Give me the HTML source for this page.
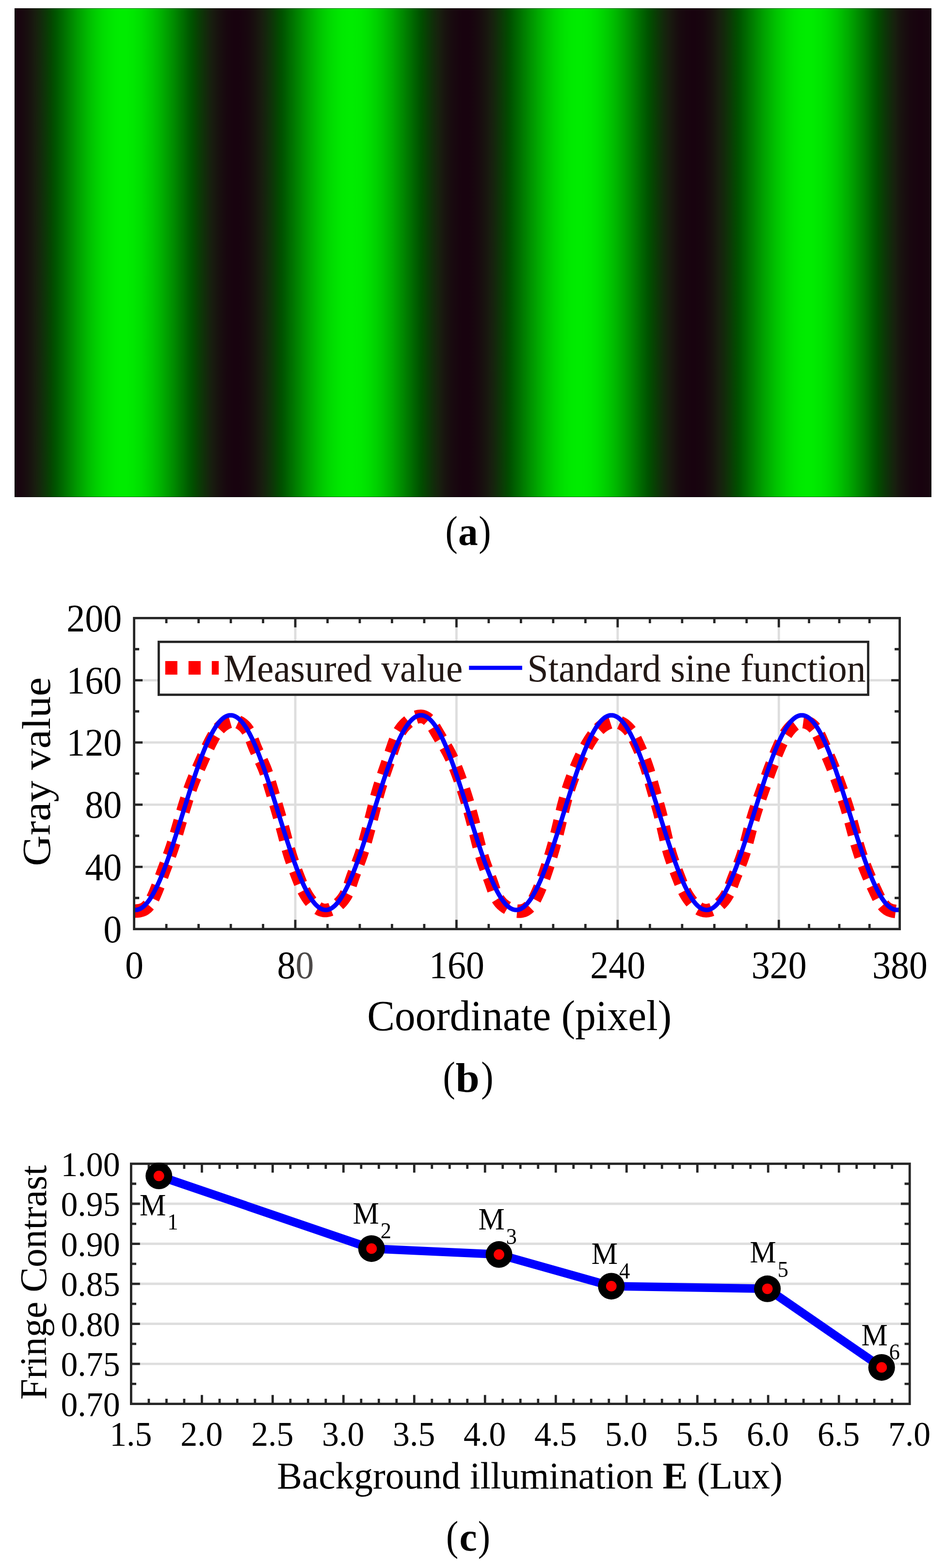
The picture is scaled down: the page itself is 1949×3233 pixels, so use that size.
<!DOCTYPE html>
<html lang="en">
<head>
<meta charset="utf-8">
<title>Fringe contrast figure</title>
<style>
html,body{margin:0;padding:0;background:#fff;}
body{width:1949px;height:3233px;overflow:hidden;font-family:"Liberation Serif",serif;}
svg{display:block;}
text{white-space:pre;}
</style>
</head>
<body>
<svg width="1949" height="3233" viewBox="0 0 1949 3233" font-family="'Liberation Serif', serif">
<defs><linearGradient id="fr" gradientUnits="userSpaceOnUse" x1="30" y1="0" x2="1921" y2="0"><stop offset="0%" stop-color="#18040f"/><stop offset="0.26%" stop-color="#18050f"/><stop offset="0.53%" stop-color="#18060f"/><stop offset="0.79%" stop-color="#18080f"/><stop offset="1.05%" stop-color="#180b0f"/><stop offset="1.32%" stop-color="#180e0f"/><stop offset="1.58%" stop-color="#18120f"/><stop offset="1.84%" stop-color="#18160f"/><stop offset="2.11%" stop-color="#181b0f"/><stop offset="2.37%" stop-color="#17200e"/><stop offset="2.63%" stop-color="#15250d"/><stop offset="2.89%" stop-color="#122b0b"/><stop offset="3.16%" stop-color="#0f3109"/><stop offset="3.42%" stop-color="#0c3707"/><stop offset="3.68%" stop-color="#093e04"/><stop offset="3.95%" stop-color="#054502"/><stop offset="4.21%" stop-color="#024d00"/><stop offset="4.47%" stop-color="#005400"/><stop offset="4.74%" stop-color="#005c00"/><stop offset="5%" stop-color="#006400"/><stop offset="5.26%" stop-color="#006b00"/><stop offset="5.53%" stop-color="#007300"/><stop offset="5.79%" stop-color="#007b00"/><stop offset="6.05%" stop-color="#008300"/><stop offset="6.32%" stop-color="#008b00"/><stop offset="6.58%" stop-color="#009300"/><stop offset="6.84%" stop-color="#009b00"/><stop offset="7.11%" stop-color="#00a200"/><stop offset="7.37%" stop-color="#00a900"/><stop offset="7.63%" stop-color="#00b000"/><stop offset="7.89%" stop-color="#00b700"/><stop offset="8.16%" stop-color="#00be00"/><stop offset="8.42%" stop-color="#00c400"/><stop offset="8.68%" stop-color="#00ca00"/><stop offset="8.95%" stop-color="#00cf00"/><stop offset="9.21%" stop-color="#00d400"/><stop offset="9.47%" stop-color="#00d900"/><stop offset="9.74%" stop-color="#00dd00"/><stop offset="10%" stop-color="#00e000"/><stop offset="10.26%" stop-color="#00e300"/><stop offset="10.53%" stop-color="#00e600"/><stop offset="10.79%" stop-color="#00e800"/><stop offset="11.05%" stop-color="#00ea00"/><stop offset="11.32%" stop-color="#00eb00"/><stop offset="11.58%" stop-color="#00ec00"/><stop offset="11.84%" stop-color="#00ec00"/><stop offset="12.11%" stop-color="#00ec00"/><stop offset="12.37%" stop-color="#00eb00"/><stop offset="12.63%" stop-color="#00e900"/><stop offset="12.89%" stop-color="#00e800"/><stop offset="13.16%" stop-color="#00e500"/><stop offset="13.42%" stop-color="#00e200"/><stop offset="13.68%" stop-color="#00df00"/><stop offset="13.95%" stop-color="#00db00"/><stop offset="14.21%" stop-color="#00d700"/><stop offset="14.47%" stop-color="#00d200"/><stop offset="14.74%" stop-color="#00cd00"/><stop offset="15%" stop-color="#00c800"/><stop offset="15.26%" stop-color="#00c200"/><stop offset="15.53%" stop-color="#00bc00"/><stop offset="15.79%" stop-color="#00b600"/><stop offset="16.05%" stop-color="#00af00"/><stop offset="16.32%" stop-color="#00a800"/><stop offset="16.58%" stop-color="#00a100"/><stop offset="16.84%" stop-color="#009a00"/><stop offset="17.11%" stop-color="#009200"/><stop offset="17.37%" stop-color="#008b00"/><stop offset="17.63%" stop-color="#008300"/><stop offset="17.89%" stop-color="#007b00"/><stop offset="18.16%" stop-color="#007300"/><stop offset="18.42%" stop-color="#006c00"/><stop offset="18.68%" stop-color="#006400"/><stop offset="18.95%" stop-color="#005c00"/><stop offset="19.21%" stop-color="#005500"/><stop offset="19.47%" stop-color="#014e00"/><stop offset="19.74%" stop-color="#054701"/><stop offset="20%" stop-color="#084004"/><stop offset="20.26%" stop-color="#0b3906"/><stop offset="20.53%" stop-color="#0e3308"/><stop offset="20.79%" stop-color="#112d0a"/><stop offset="21.05%" stop-color="#14270c"/><stop offset="21.32%" stop-color="#16210e"/><stop offset="21.58%" stop-color="#181c0f"/><stop offset="21.84%" stop-color="#18180f"/><stop offset="22.11%" stop-color="#18140f"/><stop offset="22.37%" stop-color="#18100f"/><stop offset="22.63%" stop-color="#180d0f"/><stop offset="22.89%" stop-color="#180a0f"/><stop offset="23.16%" stop-color="#18070f"/><stop offset="23.42%" stop-color="#18060f"/><stop offset="23.68%" stop-color="#18040f"/><stop offset="23.95%" stop-color="#18030f"/><stop offset="24.21%" stop-color="#18030f"/><stop offset="24.47%" stop-color="#18030f"/><stop offset="24.74%" stop-color="#18040f"/><stop offset="25%" stop-color="#18050f"/><stop offset="25.26%" stop-color="#18070f"/><stop offset="25.53%" stop-color="#18090f"/><stop offset="25.79%" stop-color="#180c0f"/><stop offset="26.05%" stop-color="#180f0f"/><stop offset="26.32%" stop-color="#18130f"/><stop offset="26.58%" stop-color="#18170f"/><stop offset="26.84%" stop-color="#181b0f"/><stop offset="27.11%" stop-color="#17200e"/><stop offset="27.37%" stop-color="#14250d"/><stop offset="27.63%" stop-color="#122b0b"/><stop offset="27.89%" stop-color="#0f3109"/><stop offset="28.16%" stop-color="#0c3707"/><stop offset="28.42%" stop-color="#093e04"/><stop offset="28.68%" stop-color="#054502"/><stop offset="28.95%" stop-color="#024c00"/><stop offset="29.21%" stop-color="#005300"/><stop offset="29.47%" stop-color="#005a00"/><stop offset="29.74%" stop-color="#006200"/><stop offset="30%" stop-color="#006a00"/><stop offset="30.26%" stop-color="#007100"/><stop offset="30.53%" stop-color="#007900"/><stop offset="30.79%" stop-color="#008100"/><stop offset="31.05%" stop-color="#008800"/><stop offset="31.32%" stop-color="#009000"/><stop offset="31.58%" stop-color="#009800"/><stop offset="31.84%" stop-color="#009f00"/><stop offset="32.11%" stop-color="#00a600"/><stop offset="32.37%" stop-color="#00ad00"/><stop offset="32.63%" stop-color="#00b400"/><stop offset="32.89%" stop-color="#00ba00"/><stop offset="33.16%" stop-color="#00c100"/><stop offset="33.42%" stop-color="#00c600"/><stop offset="33.68%" stop-color="#00cc00"/><stop offset="33.95%" stop-color="#00d100"/><stop offset="34.21%" stop-color="#00d600"/><stop offset="34.47%" stop-color="#00da00"/><stop offset="34.74%" stop-color="#00de00"/><stop offset="35%" stop-color="#00e100"/><stop offset="35.26%" stop-color="#00e400"/><stop offset="35.53%" stop-color="#00e700"/><stop offset="35.79%" stop-color="#00e900"/><stop offset="36.05%" stop-color="#00ea00"/><stop offset="36.32%" stop-color="#00eb00"/><stop offset="36.58%" stop-color="#00ec00"/><stop offset="36.84%" stop-color="#00ec00"/><stop offset="37.11%" stop-color="#00eb00"/><stop offset="37.37%" stop-color="#00ea00"/><stop offset="37.63%" stop-color="#00e900"/><stop offset="37.89%" stop-color="#00e700"/><stop offset="38.16%" stop-color="#00e400"/><stop offset="38.42%" stop-color="#00e100"/><stop offset="38.68%" stop-color="#00de00"/><stop offset="38.95%" stop-color="#00da00"/><stop offset="39.21%" stop-color="#00d500"/><stop offset="39.47%" stop-color="#00d100"/><stop offset="39.74%" stop-color="#00cb00"/><stop offset="40%" stop-color="#00c600"/><stop offset="40.26%" stop-color="#00c000"/><stop offset="40.53%" stop-color="#00ba00"/><stop offset="40.79%" stop-color="#00b300"/><stop offset="41.05%" stop-color="#00ad00"/><stop offset="41.32%" stop-color="#00a600"/><stop offset="41.58%" stop-color="#009e00"/><stop offset="41.84%" stop-color="#009700"/><stop offset="42.11%" stop-color="#008f00"/><stop offset="42.37%" stop-color="#008800"/><stop offset="42.63%" stop-color="#008000"/><stop offset="42.89%" stop-color="#007800"/><stop offset="43.16%" stop-color="#007100"/><stop offset="43.42%" stop-color="#006900"/><stop offset="43.68%" stop-color="#006100"/><stop offset="43.95%" stop-color="#005a00"/><stop offset="44.21%" stop-color="#005200"/><stop offset="44.47%" stop-color="#024b00"/><stop offset="44.74%" stop-color="#064402"/><stop offset="45%" stop-color="#093d05"/><stop offset="45.26%" stop-color="#0c3707"/><stop offset="45.53%" stop-color="#0f3009"/><stop offset="45.79%" stop-color="#122a0b"/><stop offset="46.05%" stop-color="#15250d"/><stop offset="46.32%" stop-color="#17200e"/><stop offset="46.58%" stop-color="#181b0f"/><stop offset="46.84%" stop-color="#18160f"/><stop offset="47.11%" stop-color="#18120f"/><stop offset="47.37%" stop-color="#180f0f"/><stop offset="47.63%" stop-color="#180b0f"/><stop offset="47.89%" stop-color="#18090f"/><stop offset="48.16%" stop-color="#18070f"/><stop offset="48.42%" stop-color="#18050f"/><stop offset="48.68%" stop-color="#18040f"/><stop offset="48.95%" stop-color="#18030f"/><stop offset="49.21%" stop-color="#18030f"/><stop offset="49.47%" stop-color="#18030f"/><stop offset="49.74%" stop-color="#18040f"/><stop offset="50%" stop-color="#18060f"/><stop offset="50.26%" stop-color="#18080f"/><stop offset="50.53%" stop-color="#180a0f"/><stop offset="50.79%" stop-color="#180d0f"/><stop offset="51.05%" stop-color="#18100f"/><stop offset="51.32%" stop-color="#18140f"/><stop offset="51.58%" stop-color="#18180f"/><stop offset="51.84%" stop-color="#181d0f"/><stop offset="52.11%" stop-color="#16220e"/><stop offset="52.37%" stop-color="#14270c"/><stop offset="52.63%" stop-color="#112d0a"/><stop offset="52.89%" stop-color="#0e3308"/><stop offset="53.16%" stop-color="#0b3a06"/><stop offset="53.42%" stop-color="#084004"/><stop offset="53.68%" stop-color="#044701"/><stop offset="53.95%" stop-color="#014e00"/><stop offset="54.21%" stop-color="#005600"/><stop offset="54.47%" stop-color="#005d00"/><stop offset="54.74%" stop-color="#006500"/><stop offset="55%" stop-color="#006c00"/><stop offset="55.26%" stop-color="#007400"/><stop offset="55.53%" stop-color="#007c00"/><stop offset="55.79%" stop-color="#008300"/><stop offset="56.05%" stop-color="#008b00"/><stop offset="56.32%" stop-color="#009300"/><stop offset="56.58%" stop-color="#009a00"/><stop offset="56.84%" stop-color="#00a100"/><stop offset="57.11%" stop-color="#00a900"/><stop offset="57.37%" stop-color="#00af00"/><stop offset="57.63%" stop-color="#00b600"/><stop offset="57.89%" stop-color="#00bd00"/><stop offset="58.16%" stop-color="#00c300"/><stop offset="58.42%" stop-color="#00c800"/><stop offset="58.68%" stop-color="#00ce00"/><stop offset="58.95%" stop-color="#00d300"/><stop offset="59.21%" stop-color="#00d700"/><stop offset="59.47%" stop-color="#00dc00"/><stop offset="59.74%" stop-color="#00df00"/><stop offset="60%" stop-color="#00e300"/><stop offset="60.26%" stop-color="#00e500"/><stop offset="60.53%" stop-color="#00e800"/><stop offset="60.79%" stop-color="#00ea00"/><stop offset="61.05%" stop-color="#00eb00"/><stop offset="61.32%" stop-color="#00ec00"/><stop offset="61.58%" stop-color="#00ec00"/><stop offset="61.84%" stop-color="#00ec00"/><stop offset="62.11%" stop-color="#00eb00"/><stop offset="62.37%" stop-color="#00ea00"/><stop offset="62.63%" stop-color="#00e800"/><stop offset="62.89%" stop-color="#00e600"/><stop offset="63.16%" stop-color="#00e300"/><stop offset="63.42%" stop-color="#00e000"/><stop offset="63.68%" stop-color="#00dc00"/><stop offset="63.95%" stop-color="#00d800"/><stop offset="64.21%" stop-color="#00d400"/><stop offset="64.47%" stop-color="#00cf00"/><stop offset="64.74%" stop-color="#00ca00"/><stop offset="65%" stop-color="#00c400"/><stop offset="65.26%" stop-color="#00be00"/><stop offset="65.53%" stop-color="#00b800"/><stop offset="65.79%" stop-color="#00b100"/><stop offset="66.05%" stop-color="#00aa00"/><stop offset="66.32%" stop-color="#00a300"/><stop offset="66.58%" stop-color="#009c00"/><stop offset="66.84%" stop-color="#009400"/><stop offset="67.11%" stop-color="#008d00"/><stop offset="67.37%" stop-color="#008500"/><stop offset="67.63%" stop-color="#007d00"/><stop offset="67.89%" stop-color="#007600"/><stop offset="68.16%" stop-color="#006e00"/><stop offset="68.42%" stop-color="#006600"/><stop offset="68.68%" stop-color="#005f00"/><stop offset="68.95%" stop-color="#005700"/><stop offset="69.21%" stop-color="#005000"/><stop offset="69.47%" stop-color="#044901"/><stop offset="69.74%" stop-color="#074203"/><stop offset="70%" stop-color="#0a3b05"/><stop offset="70.26%" stop-color="#0d3507"/><stop offset="70.53%" stop-color="#102e0a"/><stop offset="70.79%" stop-color="#13280c"/><stop offset="71.05%" stop-color="#16230d"/><stop offset="71.32%" stop-color="#181e0f"/><stop offset="71.58%" stop-color="#18190f"/><stop offset="71.84%" stop-color="#18150f"/><stop offset="72.11%" stop-color="#18110f"/><stop offset="72.37%" stop-color="#180d0f"/><stop offset="72.63%" stop-color="#180a0f"/><stop offset="72.89%" stop-color="#18080f"/><stop offset="73.16%" stop-color="#18060f"/><stop offset="73.42%" stop-color="#18050f"/><stop offset="73.68%" stop-color="#18040f"/><stop offset="73.95%" stop-color="#18030f"/><stop offset="74.21%" stop-color="#18030f"/><stop offset="74.47%" stop-color="#18040f"/><stop offset="74.74%" stop-color="#18050f"/><stop offset="75%" stop-color="#18060f"/><stop offset="75.26%" stop-color="#18080f"/><stop offset="75.53%" stop-color="#180b0f"/><stop offset="75.79%" stop-color="#180e0f"/><stop offset="76.05%" stop-color="#18110f"/><stop offset="76.32%" stop-color="#18150f"/><stop offset="76.58%" stop-color="#181a0f"/><stop offset="76.84%" stop-color="#181f0f"/><stop offset="77.11%" stop-color="#15240d"/><stop offset="77.37%" stop-color="#13290b"/><stop offset="77.63%" stop-color="#102f09"/><stop offset="77.89%" stop-color="#0d3507"/><stop offset="78.16%" stop-color="#0a3c05"/><stop offset="78.42%" stop-color="#064303"/><stop offset="78.68%" stop-color="#034a00"/><stop offset="78.95%" stop-color="#005100"/><stop offset="79.21%" stop-color="#005800"/><stop offset="79.47%" stop-color="#006000"/><stop offset="79.74%" stop-color="#006700"/><stop offset="80%" stop-color="#006f00"/><stop offset="80.26%" stop-color="#007700"/><stop offset="80.53%" stop-color="#007e00"/><stop offset="80.79%" stop-color="#008600"/><stop offset="81.05%" stop-color="#008e00"/><stop offset="81.32%" stop-color="#009500"/><stop offset="81.58%" stop-color="#009d00"/><stop offset="81.84%" stop-color="#00a400"/><stop offset="82.11%" stop-color="#00ab00"/><stop offset="82.37%" stop-color="#00b200"/><stop offset="82.63%" stop-color="#00b800"/><stop offset="82.89%" stop-color="#00bf00"/><stop offset="83.16%" stop-color="#00c500"/><stop offset="83.42%" stop-color="#00ca00"/><stop offset="83.68%" stop-color="#00d000"/><stop offset="83.95%" stop-color="#00d400"/><stop offset="84.21%" stop-color="#00d900"/><stop offset="84.47%" stop-color="#00dd00"/><stop offset="84.74%" stop-color="#00e000"/><stop offset="85%" stop-color="#00e400"/><stop offset="85.26%" stop-color="#00e600"/><stop offset="85.53%" stop-color="#00e800"/><stop offset="85.79%" stop-color="#00ea00"/><stop offset="86.05%" stop-color="#00eb00"/><stop offset="86.32%" stop-color="#00ec00"/><stop offset="86.58%" stop-color="#00ec00"/><stop offset="86.84%" stop-color="#00ec00"/><stop offset="87.11%" stop-color="#00eb00"/><stop offset="87.37%" stop-color="#00e900"/><stop offset="87.63%" stop-color="#00e700"/><stop offset="87.89%" stop-color="#00e500"/><stop offset="88.16%" stop-color="#00e200"/><stop offset="88.42%" stop-color="#00df00"/><stop offset="88.68%" stop-color="#00db00"/><stop offset="88.95%" stop-color="#00d700"/><stop offset="89.21%" stop-color="#00d200"/><stop offset="89.47%" stop-color="#00cd00"/><stop offset="89.74%" stop-color="#00c800"/><stop offset="90%" stop-color="#00c200"/><stop offset="90.26%" stop-color="#00bc00"/><stop offset="90.53%" stop-color="#00b500"/><stop offset="90.79%" stop-color="#00af00"/><stop offset="91.05%" stop-color="#00a800"/><stop offset="91.32%" stop-color="#00a000"/><stop offset="91.58%" stop-color="#009900"/><stop offset="91.84%" stop-color="#009100"/><stop offset="92.11%" stop-color="#008900"/><stop offset="92.37%" stop-color="#008100"/><stop offset="92.63%" stop-color="#007a00"/><stop offset="92.89%" stop-color="#007200"/><stop offset="93.16%" stop-color="#006a00"/><stop offset="93.42%" stop-color="#006200"/><stop offset="93.68%" stop-color="#005a00"/><stop offset="93.95%" stop-color="#005300"/><stop offset="94.21%" stop-color="#024b00"/><stop offset="94.47%" stop-color="#064402"/><stop offset="94.74%" stop-color="#093d05"/><stop offset="95%" stop-color="#0c3607"/><stop offset="95.26%" stop-color="#0f3009"/><stop offset="95.53%" stop-color="#122a0b"/><stop offset="95.79%" stop-color="#15240d"/><stop offset="96.05%" stop-color="#181f0f"/><stop offset="96.32%" stop-color="#181a0f"/><stop offset="96.58%" stop-color="#18150f"/><stop offset="96.84%" stop-color="#18110f"/><stop offset="97.11%" stop-color="#180e0f"/><stop offset="97.37%" stop-color="#180b0f"/><stop offset="97.63%" stop-color="#18080f"/><stop offset="97.89%" stop-color="#18060f"/><stop offset="98.16%" stop-color="#18050f"/><stop offset="98.42%" stop-color="#18040f"/><stop offset="98.68%" stop-color="#18030f"/><stop offset="98.95%" stop-color="#18030f"/><stop offset="99.21%" stop-color="#18040f"/><stop offset="99.47%" stop-color="#18050f"/><stop offset="99.74%" stop-color="#18060f"/><stop offset="100%" stop-color="#18090f"/></linearGradient></defs>
<rect x="30" y="17" width="1891" height="1008" fill="url(#fr)"/>
<rect x="30.5" y="17.5" width="1890" height="1007" fill="none" stroke="#000" stroke-opacity="0.55" stroke-width="1"/>
<text y="1124.2" font-size="86.5" fill="#000"><tspan x="918.39" dy="-0.4" textLength="25.35" lengthAdjust="spacingAndGlyphs">(</tspan><tspan x="945.12" dy="0.4" font-size="81.5" font-weight="bold" textLength="40.75" lengthAdjust="spacingAndGlyphs">a</tspan><tspan x="987.26" dy="-0.4" textLength="25.35" lengthAdjust="spacingAndGlyphs">)</tspan></text>
<text y="2250.9" font-size="86.5" fill="#000"><tspan x="913.39" dy="-2" textLength="25.35" lengthAdjust="spacingAndGlyphs">(</tspan><tspan x="939.87" dy="2" font-size="85" font-weight="bold" textLength="49.15" lengthAdjust="spacingAndGlyphs">b</tspan><tspan x="992.36" dy="-2" textLength="25.35" lengthAdjust="spacingAndGlyphs">)</tspan></text>
<text y="3196.7" font-size="86.5" fill="#000"><tspan x="920.09" dy="-0.4" textLength="25.35" lengthAdjust="spacingAndGlyphs">(</tspan><tspan x="947.46" dy="0.4" font-size="81.5" font-weight="bold" textLength="36.19" lengthAdjust="spacingAndGlyphs">c</tspan><tspan x="985.66" dy="-0.4" textLength="25.35" lengthAdjust="spacingAndGlyphs">)</tspan></text>
<path d="M609.02 1274.4V1915.6M941.44 1274.4V1915.6M1273.86 1274.4V1915.6M1606.28 1274.4V1915.6M276.6 1787.36H1855.6M276.6 1659.12H1855.6M276.6 1530.88H1855.6M276.6 1402.64H1855.6" stroke="#dedede" stroke-width="4.8" fill="none"/>
<clipPath id="cb"><rect x="276.6" y="1274.4" width="1579" height="641.2"/></clipPath>
<g clip-path="url(#cb)" fill="none">
<path d="M276.6 1878.6L278.6 1878.5L280.59 1878.38L282.59 1878.24L284.58 1878.05L286.56 1877.8L288.54 1877.46L290.49 1877.03L292.41 1876.47L294.28 1875.78L296.09 1874.93L297.84 1873.95L299.51 1872.85L301.1 1871.64L302.61 1870.33L304.04 1868.93L305.41 1867.47L306.6 1866.07M315.06 1852.57L315.94 1850.77L316.8 1848.96L317.63 1847.15L318.45 1845.32L319.25 1843.49L320.03 1841.65L320.8 1839.8L321.56 1837.95L322.32 1836.1L323.07 1834.25L323.81 1832.39L324.54 1830.53L325.27 1828.67L325.99 1826.8M333.19 1807.45L333.87 1805.57L334.56 1803.69L335.24 1801.81L335.93 1799.93L336.62 1798.05L337.31 1796.18L338 1794.3L338.7 1792.43L339.4 1790.55L340.1 1788.68L340.8 1786.81L341.51 1784.94L342.21 1783.06L342.92 1781.19M349.32 1764.09L350 1762.21L350.68 1760.33L351.36 1758.45L352.03 1756.57L352.69 1754.68L353.35 1752.79L354 1750.9L354.64 1749.01L355.28 1747.11L355.91 1745.21L356.53 1743.31L357.15 1741.41L357.75 1739.5L358.36 1737.6M364 1718.95L364.56 1717.03L365.12 1715.11L365.68 1713.19L366.24 1711.26L366.79 1709.34L367.35 1707.42L367.9 1705.5L368.45 1703.58L369.01 1701.66L369.56 1699.73L370.12 1697.81L370.67 1695.89L371.23 1693.97L371.78 1692.05M377.25 1673.4L377.82 1671.48L378.39 1669.57L378.97 1667.65L379.55 1665.74L380.13 1663.82L380.71 1661.91L381.3 1660L381.89 1658.09L382.48 1656.18L383.08 1654.27L383.68 1652.36L384.28 1650.46L384.89 1648.55L385.5 1646.65M391.75 1628.13L392.42 1626.25L393.1 1624.37L393.79 1622.49L394.48 1620.61L395.18 1618.74L395.89 1616.87L396.6 1615L397.32 1613.14L398.05 1611.27L398.79 1609.41L399.53 1607.56L400.29 1605.7L401.04 1603.85L401.81 1602M409.36 1584.32L410.17 1582.48L410.97 1580.65L411.77 1578.82L412.58 1576.99L413.39 1575.16L414.19 1573.33L415 1571.5L415.81 1569.67L416.61 1567.84L417.42 1566.01L418.23 1564.18L419.04 1562.35L419.85 1560.52L420.66 1558.69M428.82 1540.86L429.68 1539.06L430.55 1537.25L431.42 1535.46L432.31 1533.66L433.2 1531.87L434.09 1530.08L435 1528.3L435.92 1526.52L436.84 1524.75L437.78 1522.98L438.74 1521.23L439.72 1519.48L440.71 1517.75L441.73 1516.03M451.46 1502.58L452.82 1501.11L454.21 1499.68L455.66 1498.29L457.15 1496.96L458.69 1495.68L460.27 1494.46L461.9 1493.3L463.57 1492.2L465.29 1491.18L467.05 1490.22L468.85 1489.35L470.69 1488.58L472.57 1487.9L474.49 1487.35M491.28 1488.72L493.1 1489.55L494.87 1490.48L496.58 1491.51L498.25 1492.62L499.86 1493.81L501.41 1495.07L502.9 1496.4L504.33 1497.8L505.7 1499.26L507 1500.77L508.24 1502.34L509.42 1503.96L510.54 1505.61L511.61 1507.31M519.94 1525.31L520.64 1527.18L521.34 1529.05L522.04 1530.93L522.74 1532.8L523.45 1534.67L524.17 1536.54L524.9 1538.4L525.65 1540.25L526.42 1542.1L527.2 1543.94L528.01 1545.77L528.82 1547.6L529.64 1549.42L530.48 1551.24M538.79 1568.72L539.64 1570.53L540.48 1572.35L541.31 1574.17L542.13 1575.99L542.93 1577.82L543.72 1579.66L544.5 1581.5L545.26 1583.35L546 1585.21L546.72 1587.07L547.43 1588.94L548.13 1590.82L548.81 1592.7L549.47 1594.58M555.39 1612.89L555.97 1614.8L556.54 1616.72L557.12 1618.63L557.69 1620.55L558.26 1622.47L558.83 1624.38L559.4 1626.3L559.97 1628.22L560.55 1630.13L561.12 1632.05L561.7 1633.96L562.27 1635.88L562.85 1637.79L563.43 1639.71M569.02 1658.28L569.6 1660.19L570.17 1662.11L570.74 1664.03L571.31 1665.94L571.87 1667.86L572.44 1669.78L573 1671.7L573.56 1673.62L574.12 1675.54L574.67 1677.46L575.23 1679.38L575.78 1681.31L576.33 1683.23L576.87 1685.15M582.28 1704.68L582.81 1706.61L583.33 1708.54L583.85 1710.47L584.36 1712.4L584.88 1714.33L585.39 1716.27L585.9 1718.2L586.41 1720.13L586.92 1722.07L587.42 1724L587.93 1725.94L588.43 1727.87L588.94 1729.81L589.45 1731.74M594.57 1750.59L595.12 1752.51L595.68 1754.43L596.25 1756.35L596.82 1758.27L597.41 1760.18L598 1762.09L598.6 1764L599.21 1765.9L599.83 1767.81L600.46 1769.7L601.1 1771.6L601.74 1773.49L602.4 1775.38L603.06 1777.27M609.76 1795.44L610.47 1797.31L611.19 1799.18L611.91 1801.04L612.63 1802.91L613.35 1804.77L614.07 1806.64L614.8 1808.5L615.53 1810.36L616.25 1812.23L616.99 1814.09L617.72 1815.95L618.47 1817.8L619.22 1819.66L619.98 1821.5M626.49 1835.73L627.41 1837.51L628.35 1839.27L629.31 1841.03L630.3 1842.77L631.31 1844.49L632.34 1846.2L633.4 1847.9L634.48 1849.58L635.59 1851.25L636.73 1852.89L637.89 1854.52L639.08 1856.13L640.3 1857.71L641.55 1859.27M655.69 1872.42L657.4 1873.46L659.16 1874.4L660.98 1875.23L662.85 1875.94L664.76 1876.52L666.72 1876.94L668.7 1877.2L670.7 1877.29L672.7 1877.21L674.68 1876.97L676.65 1876.6L678.58 1876.1L680.49 1875.49L682.35 1874.77M698.31 1864.26L699.77 1862.89L701.19 1861.48L702.57 1860.03L703.91 1858.55L705.22 1857.04L706.48 1855.48L707.7 1853.9L708.88 1852.28L710.01 1850.63L711.09 1848.95L712.14 1847.25L713.14 1845.52L714.1 1843.76L715.01 1841.98M722.04 1824.77L722.68 1822.88L723.32 1820.98L723.95 1819.08L724.58 1817.19L725.22 1815.29L725.85 1813.39L726.5 1811.5L727.16 1809.61L727.82 1807.73L728.5 1805.84L729.18 1803.96L729.88 1802.09L730.58 1800.21L731.28 1798.34M738.24 1780.23L738.95 1778.36L739.66 1776.49L740.36 1774.62L741.06 1772.74L741.75 1770.86L742.43 1768.98L743.1 1767.1L743.76 1765.21L744.42 1763.32L745.06 1761.43L745.69 1759.53L746.32 1757.63L746.94 1755.73L747.55 1753.83M753.05 1735.49L753.6 1733.56L754.14 1731.64L754.68 1729.71L755.21 1727.79L755.74 1725.86L756.27 1723.93L756.8 1722L757.32 1720.07L757.85 1718.14L758.37 1716.21L758.89 1714.28L759.4 1712.34L759.92 1710.41L760.43 1708.48M765.46 1689.17L765.95 1687.23L766.45 1685.29L766.94 1683.36L767.43 1681.42L767.92 1679.48L768.41 1677.54L768.9 1675.6L769.39 1673.66L769.87 1671.72L770.36 1669.78L770.84 1667.84L771.33 1665.9L771.82 1663.96L772.3 1662.02M777.33 1642.58L777.85 1640.65L778.38 1638.72L778.91 1636.79L779.45 1634.87L779.99 1632.94L780.54 1631.02L781.1 1629.1L781.67 1627.18L782.24 1625.27L782.82 1623.35L783.4 1621.44L783.99 1619.53L784.59 1617.62L785.2 1615.71M791.08 1597.85L791.72 1595.95L792.36 1594.06L793.01 1592.17L793.65 1590.28L794.3 1588.38L794.95 1586.49L795.6 1584.6L796.25 1582.71L796.9 1580.82L797.55 1578.93L798.2 1577.03L798.85 1575.14L799.5 1573.25L800.15 1571.36M806.65 1552.44L807.3 1550.55L807.95 1548.66L808.6 1546.77L809.25 1544.88L809.9 1542.98L810.55 1541.09L811.2 1539.2L811.85 1537.31L812.5 1535.42L813.16 1533.53L813.82 1531.64L814.5 1529.76L815.2 1527.89L815.91 1526.02M824.16 1508.69L825.21 1506.99L826.3 1505.32L827.44 1503.67L828.61 1502.05L829.83 1500.47L831.1 1498.92L832.4 1497.4L833.74 1495.92L835.13 1494.47L836.54 1493.06L838 1491.69L839.49 1490.36L841.01 1489.06L842.57 1487.8M858.05 1478.91L859.95 1478.29L861.88 1477.78L863.85 1477.4L865.83 1477.16L867.83 1477.08L869.83 1477.19L871.8 1477.5L873.73 1478.02L875.59 1478.75L877.38 1479.65L879.08 1480.69L880.7 1481.87L882.24 1483.14L883.71 1484.51M894.99 1499.44L896.04 1501.15L897.06 1502.86L898.08 1504.58L899.09 1506.31L900.09 1508.04L901.1 1509.77L902.1 1511.5L903.11 1513.23L904.13 1514.95L905.15 1516.67L906.17 1518.39L907.2 1520.1L908.23 1521.82L909.26 1523.53M918.92 1539.65L919.92 1541.39L920.91 1543.12L921.89 1544.86L922.86 1546.61L923.82 1548.37L924.77 1550.13L925.7 1551.9L926.62 1553.68L927.52 1555.46L928.41 1557.25L929.28 1559.05L930.15 1560.86L931 1562.67L931.84 1564.48M939.46 1582.34L940.2 1584.2L940.93 1586.06L941.66 1587.92L942.38 1589.79L943.09 1591.66L943.8 1593.53L944.5 1595.4L945.2 1597.27L945.89 1599.15L946.58 1601.03L947.26 1602.91L947.94 1604.79L948.61 1606.67L949.28 1608.56M955.73 1627.47L956.35 1629.37L956.97 1631.27L957.58 1633.17L958.19 1635.08L958.8 1636.99L959.4 1638.89L960 1640.8L960.6 1642.71L961.19 1644.62L961.78 1646.53L962.36 1648.44L962.95 1650.36L963.52 1652.27L964.1 1654.19M969.5 1672.8L970.04 1674.72L970.57 1676.65L971.1 1678.58L971.63 1680.51L972.16 1682.44L972.68 1684.37L973.2 1686.3L973.72 1688.23L974.23 1690.17L974.74 1692.1L975.24 1694.03L975.75 1695.97L976.25 1697.91L976.75 1699.84M981.48 1718.52L981.97 1720.46L982.46 1722.4L982.94 1724.34L983.43 1726.28L983.92 1728.22L984.41 1730.16L984.9 1732.1L985.39 1734.04L985.88 1735.98L986.38 1737.91L986.88 1739.85L987.38 1741.79L987.88 1743.72L988.39 1745.66M993.75 1764.86L994.33 1766.78L994.92 1768.69L995.51 1770.6L996.12 1772.5L996.74 1774.41L997.36 1776.3L998 1778.2L998.65 1780.09L999.31 1781.98L999.98 1783.86L1000.66 1785.75L1001.34 1787.62L1002.04 1789.5L1002.73 1791.37M1009.43 1809.04L1010.13 1810.91L1010.83 1812.79L1011.52 1814.66L1012.2 1816.54L1012.88 1818.42L1013.54 1820.31L1014.2 1822.2L1014.85 1824.09L1015.49 1825.99L1016.12 1827.88L1016.76 1829.78L1017.41 1831.67L1018.06 1833.56L1018.73 1835.45M1026.73 1853.06L1027.79 1854.76L1028.91 1856.41L1030.09 1858.03L1031.33 1859.6L1032.62 1861.12L1033.98 1862.59L1035.4 1864L1036.88 1865.35L1038.4 1866.64L1039.98 1867.87L1041.6 1869.04L1043.26 1870.16L1044.96 1871.21L1046.69 1872.21M1066.39 1878.61L1068.38 1878.76L1070.38 1878.81L1072.38 1878.74L1074.37 1878.56L1076.34 1878.25L1078.29 1877.8L1080.2 1877.2L1082.06 1876.45L1083.85 1875.57L1085.57 1874.55L1087.22 1873.42L1088.8 1872.19L1090.3 1870.87L1091.73 1869.48M1102.36 1854.38L1103.31 1852.62L1104.22 1850.84L1105.11 1849.05L1105.98 1847.25L1106.84 1845.44L1107.67 1843.62L1108.5 1841.8L1109.31 1839.97L1110.12 1838.14L1110.92 1836.31L1111.7 1834.47L1112.48 1832.63L1113.24 1830.78L1114 1828.93M1121.11 1810.23L1121.78 1808.34L1122.45 1806.46L1123.11 1804.57L1123.76 1802.68L1124.41 1800.79L1125.06 1798.89L1125.7 1797L1126.34 1795.11L1126.98 1793.21L1127.61 1791.31L1128.24 1789.41L1128.87 1787.52L1129.49 1785.62L1130.11 1783.71M1135.8 1765.72L1136.39 1763.8L1136.96 1761.89L1137.54 1759.97L1138.11 1758.06L1138.68 1756.14L1139.24 1754.22L1139.8 1752.3L1140.35 1750.38L1140.9 1748.46L1141.45 1746.53L1141.99 1744.61L1142.53 1742.68L1143.06 1740.75L1143.59 1738.82M1148.66 1719.49L1149.14 1717.56L1149.63 1715.61L1150.11 1713.67L1150.59 1711.73L1151.06 1709.79L1151.53 1707.84L1152 1705.9L1152.47 1703.95L1152.93 1702.01L1153.39 1700.06L1153.85 1698.12L1154.31 1696.17L1154.76 1694.22L1155.22 1692.27M1159.72 1673.19L1160.19 1671.24L1160.66 1669.3L1161.14 1667.36L1161.62 1665.42L1162.11 1663.48L1162.6 1661.54L1163.1 1659.6L1163.6 1657.66L1164.11 1655.73L1164.63 1653.8L1165.15 1651.87L1165.67 1649.94L1166.2 1648.01L1166.74 1646.08M1172.2 1627.79L1172.81 1625.89L1173.42 1623.98L1174.05 1622.08L1174.67 1620.18L1175.31 1618.29L1175.95 1616.39L1176.6 1614.5L1177.26 1612.61L1177.92 1610.72L1178.59 1608.84L1179.27 1606.96L1179.96 1605.08L1180.65 1603.2L1181.35 1601.33M1188.46 1583.36L1189.23 1581.51L1190.01 1579.67L1190.8 1577.83L1191.59 1575.99L1192.39 1574.16L1193.19 1572.33L1194 1570.5L1194.82 1568.67L1195.64 1566.85L1196.47 1565.03L1197.31 1563.22L1198.15 1561.4L1199.01 1559.6L1199.87 1557.79M1209.13 1539.78L1210.1 1538.04L1211.09 1536.29L1212.09 1534.56L1213.1 1532.83L1214.12 1531.12L1215.15 1529.4L1216.2 1527.7L1217.26 1526L1218.34 1524.32L1219.43 1522.64L1220.54 1520.98L1221.67 1519.33L1222.82 1517.69L1223.99 1516.07M1234.96 1503.39L1236.41 1502.03L1237.91 1500.69L1239.44 1499.4L1241 1498.16L1242.6 1496.96L1244.23 1495.8L1245.9 1494.7L1247.6 1493.65L1249.34 1492.65L1251.11 1491.72L1252.91 1490.86L1254.75 1490.07L1256.62 1489.37L1258.52 1488.76M1278.48 1489.99L1280.3 1490.82L1282.08 1491.73L1283.81 1492.73L1285.5 1493.8L1287.15 1494.94L1288.75 1496.14L1290.3 1497.4L1291.81 1498.71L1293.27 1500.08L1294.69 1501.49L1296.06 1502.95L1297.38 1504.45L1298.65 1505.99L1299.89 1507.56M1309.63 1523.54L1310.53 1525.33L1311.4 1527.12L1312.26 1528.93L1313.11 1530.74L1313.95 1532.56L1314.78 1534.38L1315.6 1536.2L1316.42 1538.02L1317.24 1539.85L1318.05 1541.68L1318.87 1543.5L1319.67 1545.33L1320.48 1547.16L1321.27 1549M1328.71 1567.05L1329.43 1568.91L1330.14 1570.78L1330.83 1572.66L1331.52 1574.54L1332.19 1576.42L1332.85 1578.31L1333.5 1580.2L1334.14 1582.1L1334.76 1584L1335.37 1585.9L1335.97 1587.81L1336.57 1589.72L1337.15 1591.63L1337.72 1593.55M1343.16 1612.81L1343.69 1614.74L1344.22 1616.67L1344.75 1618.59L1345.29 1620.52L1345.82 1622.45L1346.36 1624.37L1346.9 1626.3L1347.45 1628.22L1348 1630.15L1348.55 1632.07L1349.11 1633.99L1349.67 1635.91L1350.23 1637.83L1350.8 1639.75M1356.04 1657.62L1356.59 1659.54L1357.14 1661.46L1357.68 1663.39L1358.22 1665.31L1358.75 1667.24L1359.28 1669.17L1359.8 1671.1L1360.31 1673.03L1360.82 1674.97L1361.32 1676.9L1361.81 1678.84L1362.3 1680.78L1362.79 1682.72L1363.26 1684.66M1367.89 1704.35L1368.34 1706.3L1368.78 1708.25L1369.22 1710.2L1369.67 1712.15L1370.11 1714.1L1370.56 1716.05L1371 1718L1371.45 1719.95L1371.89 1721.9L1372.34 1723.85L1372.8 1725.8L1373.25 1727.74L1373.71 1729.69L1374.17 1731.64M1379.12 1750.98L1379.66 1752.9L1380.2 1754.83L1380.76 1756.75L1381.33 1758.67L1381.91 1760.58L1382.5 1762.49L1383.1 1764.4L1383.71 1766.3L1384.34 1768.2L1384.97 1770.1L1385.62 1771.99L1386.28 1773.88L1386.94 1775.77L1387.61 1777.65M1394.31 1795.46L1395.04 1797.32L1395.77 1799.18L1396.49 1801.05L1397.22 1802.91L1397.95 1804.77L1398.67 1806.64L1399.4 1808.5L1400.12 1810.36L1400.85 1812.23L1401.57 1814.09L1402.3 1815.95L1403.04 1817.82L1403.78 1819.67L1404.53 1821.53M1411.43 1836.77L1412.35 1838.54L1413.29 1840.31L1414.26 1842.06L1415.25 1843.79L1416.28 1845.51L1417.32 1847.21L1418.4 1848.9L1419.5 1850.57L1420.63 1852.22L1421.79 1853.85L1422.98 1855.46L1424.19 1857.05L1425.44 1858.61L1426.72 1860.15M1441.29 1873.08L1443.02 1874.08L1444.81 1874.97L1446.64 1875.77L1448.53 1876.44L1450.45 1876.98L1452.41 1877.37L1454.4 1877.6L1456.4 1877.66L1458.4 1877.57L1460.38 1877.32L1462.34 1876.94L1464.28 1876.44L1466.18 1875.82L1468.05 1875.1M1484.41 1864.26L1485.86 1862.89L1487.28 1861.48L1488.66 1860.03L1490.01 1858.55L1491.31 1857.03L1492.58 1855.48L1493.8 1853.9L1494.98 1852.29L1496.12 1850.64L1497.22 1848.97L1498.28 1847.28L1499.3 1845.56L1500.28 1843.81L1501.22 1842.05M1508.12 1826.22L1508.83 1824.35L1509.53 1822.48L1510.22 1820.6L1510.91 1818.72L1511.6 1816.85L1512.3 1814.97L1513 1813.1L1513.71 1811.23L1514.44 1809.37L1515.17 1807.51L1515.91 1805.65L1516.66 1803.8L1517.42 1801.94L1518.18 1800.09M1525.53 1782.19L1526.27 1780.33L1527 1778.47L1527.72 1776.6L1528.43 1774.73L1529.14 1772.86L1529.82 1770.98L1530.5 1769.1L1531.16 1767.21L1531.81 1765.32L1532.44 1763.42L1533.06 1761.52L1533.67 1759.62L1534.27 1757.71L1534.85 1755.8M1540.19 1736.75L1540.7 1734.82L1541.2 1732.88L1541.71 1730.95L1542.21 1729.01L1542.7 1727.07L1543.2 1725.14L1543.7 1723.2L1544.2 1721.26L1544.7 1719.33L1545.2 1717.39L1545.7 1715.45L1546.2 1713.52L1546.71 1711.58L1547.22 1709.65M1552.41 1690.62L1552.96 1688.7L1553.52 1686.78L1554.08 1684.86L1554.65 1682.94L1555.23 1681.02L1555.81 1679.11L1556.4 1677.2L1557 1675.29L1557.6 1673.38L1558.21 1671.48L1558.82 1669.58L1559.45 1667.68L1560.07 1665.78L1560.71 1663.88M1566.92 1645.89L1567.58 1644.01L1568.25 1642.12L1568.92 1640.24L1569.59 1638.35L1570.26 1636.47L1570.93 1634.58L1571.6 1632.7L1572.27 1630.82L1572.94 1628.93L1573.61 1627.05L1574.27 1625.16L1574.94 1623.27L1575.61 1621.39L1576.28 1619.5M1582.88 1601.04L1583.56 1599.16L1584.24 1597.28L1584.93 1595.4L1585.62 1593.53L1586.31 1591.65L1587 1589.77L1587.7 1587.9L1588.4 1586.03L1589.1 1584.15L1589.81 1582.28L1590.52 1580.41L1591.23 1578.55L1591.95 1576.68L1592.67 1574.81M1600.06 1556.3L1600.82 1554.45L1601.59 1552.6L1602.36 1550.76L1603.14 1548.92L1603.92 1547.08L1604.71 1545.24L1605.5 1543.4L1606.3 1541.57L1607.1 1539.73L1607.91 1537.91L1608.73 1536.08L1609.56 1534.26L1610.41 1532.45L1611.27 1530.65M1620.52 1514L1621.62 1512.33L1622.76 1510.69L1623.93 1509.06L1625.12 1507.46L1626.35 1505.88L1627.61 1504.33L1628.9 1502.8L1630.22 1501.3L1631.58 1499.83L1632.98 1498.4L1634.42 1497.01L1635.91 1495.68L1637.45 1494.4L1639.04 1493.19M1656.73 1487.89L1658.71 1488.15L1660.67 1488.55L1662.6 1489.08L1664.49 1489.72L1666.34 1490.47L1668.15 1491.34L1669.9 1492.3L1671.59 1493.37L1673.22 1494.53L1674.77 1495.79L1676.26 1497.12L1677.68 1498.54L1679.02 1500.01L1680.3 1501.55M1688.47 1514.93L1689.34 1516.73L1690.18 1518.54L1691.01 1520.37L1691.82 1522.19L1692.62 1524.03L1693.41 1525.86L1694.2 1527.7L1694.99 1529.54L1695.79 1531.37L1696.59 1533.2L1697.39 1535.04L1698.19 1536.87L1698.99 1538.7L1699.8 1540.53M1707.96 1559.2L1708.75 1561.04L1709.53 1562.88L1710.31 1564.72L1711.09 1566.56L1711.87 1568.41L1712.64 1570.25L1713.4 1572.1L1714.16 1573.95L1714.91 1575.8L1715.66 1577.66L1716.4 1579.52L1717.14 1581.37L1717.87 1583.24L1718.6 1585.1M1725.7 1603.85L1726.39 1605.73L1727.08 1607.6L1727.77 1609.48L1728.45 1611.36L1729.14 1613.24L1729.82 1615.12L1730.5 1617L1731.18 1618.88L1731.86 1620.76L1732.53 1622.64L1733.21 1624.53L1733.88 1626.41L1734.55 1628.3L1735.22 1630.18M1741.39 1648.08L1742.02 1649.98L1742.65 1651.88L1743.27 1653.78L1743.88 1655.68L1744.49 1657.59L1745.1 1659.49L1745.7 1661.4L1746.29 1663.31L1746.88 1665.22L1747.47 1667.13L1748.04 1669.05L1748.62 1670.97L1749.18 1672.88L1749.75 1674.8M1755.15 1693.98L1755.68 1695.91L1756.2 1697.84L1756.72 1699.77L1757.24 1701.71L1757.76 1703.64L1758.28 1705.57L1758.8 1707.5L1759.32 1709.43L1759.83 1711.36L1760.35 1713.3L1760.87 1715.23L1761.38 1717.16L1761.9 1719.09L1762.42 1721.02M1767.56 1739.5L1768.11 1741.42L1768.68 1743.34L1769.25 1745.25L1769.83 1747.17L1770.41 1749.08L1771 1750.99L1771.6 1752.9L1772.21 1754.81L1772.82 1756.71L1773.44 1758.61L1774.07 1760.51L1774.71 1762.4L1775.35 1764.3L1776 1766.19M1782.52 1784L1783.24 1785.86L1783.97 1787.72L1784.7 1789.58L1785.44 1791.44L1786.19 1793.3L1786.94 1795.15L1787.7 1797L1788.47 1798.85L1789.24 1800.69L1790.01 1802.54L1790.8 1804.38L1791.58 1806.21L1792.38 1808.05L1793.17 1809.88M1800.43 1826.09L1801.27 1827.91L1802.1 1829.72L1802.94 1831.54L1803.78 1833.36L1804.62 1835.17L1805.46 1836.99L1806.3 1838.8L1807.14 1840.61L1807.99 1842.43L1808.85 1844.23L1809.71 1846.04L1810.59 1847.83L1811.49 1849.62L1812.4 1851.4M1821.47 1865.66L1822.76 1867.18L1824.12 1868.66L1825.54 1870.06L1827.03 1871.4L1828.59 1872.65L1830.22 1873.8L1831.92 1874.85L1833.69 1875.78L1835.52 1876.58L1837.4 1877.26L1839.32 1877.83L1841.27 1878.3L1843.23 1878.68L1845.2 1879L1847.19 1879.26" stroke="#f00" stroke-width="28"/>
<polyline points="276.6,1875.98 277.64,1876.1 278.68,1876.16 279.72,1876.16 280.76,1876.11 281.79,1876.01 282.83,1875.85 283.87,1875.63 284.91,1875.36 285.95,1875.03 286.99,1874.65 288.03,1874.21 289.07,1873.72 290.1,1873.17 291.14,1872.57 292.18,1871.92 293.22,1871.21 294.26,1870.44 295.3,1869.63 296.34,1868.76 297.38,1867.83 298.42,1866.85 299.45,1865.82 300.49,1864.74 301.53,1863.6 302.57,1862.41 303.61,1861.18 304.65,1859.88 305.69,1858.54 306.73,1857.15 307.76,1855.71 308.8,1854.22 309.84,1852.67 310.88,1851.08 311.92,1849.44 312.96,1847.76 314,1846.02 315.04,1844.24 316.08,1842.41 317.11,1840.54 318.15,1838.62 319.19,1836.65 320.23,1834.64 321.27,1832.59 322.31,1830.49 323.35,1828.35 324.39,1826.17 325.42,1823.94 326.46,1821.68 327.5,1819.37 328.54,1817.03 329.58,1814.65 330.62,1812.22 331.66,1809.76 332.7,1807.26 333.73,1804.73 334.77,1802.16 335.81,1799.56 336.85,1796.92 337.89,1794.24 338.93,1791.54 339.97,1788.8 341.01,1786.03 342.05,1783.23 343.08,1780.4 344.12,1777.55 345.16,1774.66 346.2,1771.75 347.24,1768.81 348.28,1765.84 349.32,1762.85 350.36,1759.83 351.39,1756.8 352.43,1753.74 353.47,1750.65 354.51,1747.55 355.55,1744.43 356.59,1741.28 357.63,1738.12 358.67,1734.95 359.71,1731.75 360.74,1728.54 361.78,1725.32 362.82,1722.08 363.86,1718.83 364.9,1715.56 365.94,1712.29 366.98,1709.01 368.02,1705.71 369.05,1702.41 370.09,1699.1 371.13,1695.79 372.17,1692.46 373.21,1689.14 374.25,1685.81 375.29,1682.47 376.33,1679.14 377.37,1675.8 378.4,1672.47 379.44,1669.13 380.48,1665.8 381.52,1662.47 382.56,1659.14 383.6,1655.82 384.64,1652.5 385.68,1649.19 386.71,1645.89 387.75,1642.59 388.79,1639.31 389.83,1636.03 390.87,1632.77 391.91,1629.51 392.95,1626.27 393.99,1623.04 395.03,1619.83 396.06,1616.63 397.1,1613.45 398.14,1610.29 399.18,1607.14 400.22,1604.02 401.26,1600.91 402.3,1597.82 403.34,1594.76 404.37,1591.71 405.41,1588.69 406.45,1585.7 407.49,1582.73 408.53,1579.78 409.57,1576.86 410.61,1573.97 411.65,1571.11 412.68,1568.27 413.72,1565.47 414.76,1562.69 415.8,1559.95 416.84,1557.23 417.88,1554.56 418.92,1551.91 419.96,1549.3 421,1546.72 422.03,1544.18 423.07,1541.68 424.11,1539.21 425.15,1536.78 426.19,1534.39 427.23,1532.03 428.27,1529.72 429.31,1527.45 430.34,1525.21 431.38,1523.02 432.42,1520.87 433.46,1518.77 434.5,1516.71 435.54,1514.69 436.58,1512.71 437.62,1510.78 438.66,1508.9 439.69,1507.06 440.73,1505.27 441.77,1503.53 442.81,1501.83 443.85,1500.18 444.89,1498.58 445.93,1497.03 446.97,1495.53 448,1494.08 449.04,1492.67 450.08,1491.32 451.12,1490.02 452.16,1488.77 453.2,1487.57 454.24,1486.43 455.28,1485.33 456.32,1484.29 457.35,1483.3 458.39,1482.37 459.43,1481.48 460.47,1480.66 461.51,1479.88 462.55,1479.16 463.59,1478.49 464.63,1477.88 465.66,1477.32 466.7,1476.82 467.74,1476.37 468.78,1475.98 469.82,1475.64 470.86,1475.36 471.9,1475.13 472.94,1474.96 473.98,1474.85 475.01,1474.78 476.05,1474.78 477.09,1474.83 478.13,1474.93 479.17,1475.1 480.21,1475.31 481.25,1475.58 482.29,1475.91 483.32,1476.29 484.36,1476.73 485.4,1477.22 486.44,1477.77 487.48,1478.37 488.52,1479.02 489.56,1479.73 490.6,1480.5 491.63,1481.31 492.67,1482.19 493.71,1483.11 494.75,1484.09 495.79,1485.12 496.83,1486.2 497.87,1487.34 498.91,1488.53 499.95,1489.77 500.98,1491.06 502.02,1492.4 503.06,1493.79 504.1,1495.23 505.14,1496.73 506.18,1498.27 507.22,1499.86 508.26,1501.5 509.29,1503.18 510.33,1504.92 511.37,1506.7 512.41,1508.53 513.45,1510.4 514.49,1512.32 515.53,1514.29 516.57,1516.3 517.61,1518.35 518.64,1520.45 519.68,1522.59 520.72,1524.77 521.76,1527 522.8,1529.26 523.84,1531.57 524.88,1533.91 525.92,1536.3 526.95,1538.72 527.99,1541.18 529.03,1543.68 530.07,1546.21 531.11,1548.78 532.15,1551.38 533.19,1554.02 534.23,1556.7 535.27,1559.4 536.3,1562.14 537.34,1564.91 538.38,1567.71 539.42,1570.54 540.46,1573.39 541.5,1576.28 542.54,1579.19 543.58,1582.13 544.61,1585.1 545.65,1588.09 546.69,1591.11 547.73,1594.15 548.77,1597.21 549.81,1600.29 550.85,1603.39 551.89,1606.52 552.92,1609.66 553.96,1612.82 555,1616 556.04,1619.19 557.08,1622.4 558.12,1625.62 559.16,1628.86 560.2,1632.11 561.24,1635.38 562.27,1638.65 563.31,1641.94 564.35,1645.23 565.39,1648.53 566.43,1651.84 567.47,1655.16 568.51,1658.48 569.55,1661.8 570.58,1665.13 571.62,1668.47 572.66,1671.8 573.7,1675.14 574.74,1678.47 575.78,1681.81 576.82,1685.14 577.86,1688.47 578.9,1691.8 579.93,1695.12 580.97,1698.44 582.01,1701.75 583.05,1705.05 584.09,1708.35 585.13,1711.63 586.17,1714.91 587.21,1718.18 588.24,1721.43 589.28,1724.67 590.32,1727.9 591.36,1731.11 592.4,1734.31 593.44,1737.49 594.48,1740.65 595.52,1743.8 596.56,1746.93 597.59,1750.03 598.63,1753.12 599.67,1756.19 600.71,1759.23 601.75,1762.25 602.79,1765.24 603.83,1768.22 604.87,1771.16 605.9,1774.08 606.94,1776.97 607.98,1779.84 609.02,1782.67 610.06,1785.48 611.1,1788.25 612.14,1790.99 613.18,1793.71 614.22,1796.39 615.25,1799.03 616.29,1801.64 617.33,1804.22 618.37,1806.76 619.41,1809.27 620.45,1811.73 621.49,1814.16 622.53,1816.56 623.56,1818.91 624.6,1821.22 625.64,1823.5 626.68,1825.73 627.72,1827.92 628.76,1830.07 629.8,1832.17 630.84,1834.24 631.88,1836.25 632.91,1838.23 633.95,1840.16 634.99,1842.04 636.03,1843.88 637.07,1845.67 638.11,1847.41 639.15,1849.11 640.19,1850.76 641.22,1852.36 642.26,1853.91 643.3,1855.41 644.34,1856.87 645.38,1858.27 646.42,1859.62 647.46,1860.92 648.5,1862.17 649.53,1863.37 650.57,1864.51 651.61,1865.61 652.65,1866.65 653.69,1867.64 654.73,1868.57 655.77,1869.46 656.81,1870.29 657.85,1871.06 658.88,1871.78 659.92,1872.45 660.96,1873.06 662,1873.62 663.04,1874.12 664.08,1874.57 665.12,1874.96 666.16,1875.3 667.19,1875.58 668.23,1875.81 669.27,1875.98 670.31,1876.1 671.35,1876.16 672.39,1876.16 673.43,1876.11 674.47,1876.01 675.51,1875.85 676.54,1875.63 677.58,1875.36 678.62,1875.03 679.66,1874.65 680.7,1874.21 681.74,1873.72 682.78,1873.17 683.82,1872.57 684.85,1871.92 685.89,1871.21 686.93,1870.44 687.97,1869.63 689.01,1868.76 690.05,1867.83 691.09,1866.85 692.13,1865.82 693.17,1864.74 694.2,1863.6 695.24,1862.41 696.28,1861.18 697.32,1859.88 698.36,1858.54 699.4,1857.15 700.44,1855.71 701.48,1854.22 702.51,1852.67 703.55,1851.08 704.59,1849.44 705.63,1847.76 706.67,1846.02 707.71,1844.24 708.75,1842.41 709.79,1840.54 710.83,1838.62 711.86,1836.65 712.9,1834.64 713.94,1832.59 714.98,1830.49 716.02,1828.35 717.06,1826.17 718.1,1823.94 719.14,1821.68 720.17,1819.37 721.21,1817.03 722.25,1814.65 723.29,1812.22 724.33,1809.76 725.37,1807.26 726.41,1804.73 727.45,1802.16 728.48,1799.56 729.52,1796.92 730.56,1794.24 731.6,1791.54 732.64,1788.8 733.68,1786.03 734.72,1783.23 735.76,1780.4 736.8,1777.55 737.83,1774.66 738.87,1771.75 739.91,1768.81 740.95,1765.84 741.99,1762.85 743.03,1759.83 744.07,1756.8 745.11,1753.74 746.14,1750.65 747.18,1747.55 748.22,1744.43 749.26,1741.28 750.3,1738.12 751.34,1734.95 752.38,1731.75 753.42,1728.54 754.46,1725.32 755.49,1722.08 756.53,1718.83 757.57,1715.56 758.61,1712.29 759.65,1709.01 760.69,1705.71 761.73,1702.41 762.77,1699.1 763.8,1695.79 764.84,1692.46 765.88,1689.14 766.92,1685.81 767.96,1682.47 769,1679.14 770.04,1675.8 771.08,1672.47 772.12,1669.13 773.15,1665.8 774.19,1662.47 775.23,1659.14 776.27,1655.82 777.31,1652.5 778.35,1649.19 779.39,1645.89 780.43,1642.59 781.46,1639.31 782.5,1636.03 783.54,1632.77 784.58,1629.51 785.62,1626.27 786.66,1623.04 787.7,1619.83 788.74,1616.63 789.77,1613.45 790.81,1610.29 791.85,1607.14 792.89,1604.02 793.93,1600.91 794.97,1597.82 796.01,1594.76 797.05,1591.71 798.09,1588.69 799.12,1585.7 800.16,1582.73 801.2,1579.78 802.24,1576.86 803.28,1573.97 804.32,1571.11 805.36,1568.27 806.4,1565.47 807.43,1562.69 808.47,1559.95 809.51,1557.23 810.55,1554.56 811.59,1551.91 812.63,1549.3 813.67,1546.72 814.71,1544.18 815.75,1541.68 816.78,1539.21 817.82,1536.78 818.86,1534.39 819.9,1532.03 820.94,1529.72 821.98,1527.45 823.02,1525.21 824.06,1523.02 825.09,1520.87 826.13,1518.77 827.17,1516.71 828.21,1514.69 829.25,1512.71 830.29,1510.78 831.33,1508.9 832.37,1507.06 833.41,1505.27 834.44,1503.53 835.48,1501.83 836.52,1500.18 837.56,1498.58 838.6,1497.03 839.64,1495.53 840.68,1494.08 841.72,1492.67 842.75,1491.32 843.79,1490.02 844.83,1488.77 845.87,1487.57 846.91,1486.43 847.95,1485.33 848.99,1484.29 850.03,1483.3 851.07,1482.37 852.1,1481.48 853.14,1480.66 854.18,1479.88 855.22,1479.16 856.26,1478.49 857.3,1477.88 858.34,1477.32 859.38,1476.82 860.41,1476.37 861.45,1475.98 862.49,1475.64 863.53,1475.36 864.57,1475.13 865.61,1474.96 866.65,1474.85 867.69,1474.78 868.73,1474.78 869.76,1474.83 870.8,1474.93 871.84,1475.1 872.88,1475.31 873.92,1475.58 874.96,1475.91 876,1476.29 877.04,1476.73 878.07,1477.22 879.11,1477.77 880.15,1478.37 881.19,1479.02 882.23,1479.73 883.27,1480.5 884.31,1481.31 885.35,1482.19 886.38,1483.11 887.42,1484.09 888.46,1485.12 889.5,1486.2 890.54,1487.34 891.58,1488.53 892.62,1489.77 893.66,1491.06 894.7,1492.4 895.73,1493.79 896.77,1495.23 897.81,1496.73 898.85,1498.27 899.89,1499.86 900.93,1501.5 901.97,1503.18 903.01,1504.92 904.04,1506.7 905.08,1508.53 906.12,1510.4 907.16,1512.32 908.2,1514.29 909.24,1516.3 910.28,1518.35 911.32,1520.45 912.36,1522.59 913.39,1524.77 914.43,1527 915.47,1529.26 916.51,1531.57 917.55,1533.91 918.59,1536.3 919.63,1538.72 920.67,1541.18 921.7,1543.68 922.74,1546.21 923.78,1548.78 924.82,1551.38 925.86,1554.02 926.9,1556.7 927.94,1559.4 928.98,1562.14 930.02,1564.91 931.05,1567.71 932.09,1570.54 933.13,1573.39 934.17,1576.28 935.21,1579.19 936.25,1582.13 937.29,1585.1 938.33,1588.09 939.36,1591.11 940.4,1594.15 941.44,1597.21 942.48,1600.29 943.52,1603.39 944.56,1606.52 945.6,1609.66 946.64,1612.82 947.68,1616 948.71,1619.19 949.75,1622.4 950.79,1625.62 951.83,1628.86 952.87,1632.11 953.91,1635.38 954.95,1638.65 955.99,1641.94 957.02,1645.23 958.06,1648.53 959.1,1651.84 960.14,1655.16 961.18,1658.48 962.22,1661.8 963.26,1665.13 964.3,1668.47 965.33,1671.8 966.37,1675.14 967.41,1678.47 968.45,1681.81 969.49,1685.14 970.53,1688.47 971.57,1691.8 972.61,1695.12 973.65,1698.44 974.68,1701.75 975.72,1705.05 976.76,1708.35 977.8,1711.63 978.84,1714.91 979.88,1718.18 980.92,1721.43 981.96,1724.67 982.99,1727.9 984.03,1731.11 985.07,1734.31 986.11,1737.49 987.15,1740.65 988.19,1743.8 989.23,1746.93 990.27,1750.03 991.31,1753.12 992.34,1756.19 993.38,1759.23 994.42,1762.25 995.46,1765.24 996.5,1768.22 997.54,1771.16 998.58,1774.08 999.62,1776.97 1000.65,1779.84 1001.69,1782.67 1002.73,1785.48 1003.77,1788.25 1004.81,1790.99 1005.85,1793.71 1006.89,1796.39 1007.93,1799.03 1008.97,1801.64 1010,1804.22 1011.04,1806.76 1012.08,1809.27 1013.12,1811.73 1014.16,1814.16 1015.2,1816.56 1016.24,1818.91 1017.28,1821.22 1018.31,1823.5 1019.35,1825.73 1020.39,1827.92 1021.43,1830.07 1022.47,1832.17 1023.51,1834.24 1024.55,1836.25 1025.59,1838.23 1026.62,1840.16 1027.66,1842.04 1028.7,1843.88 1029.74,1845.67 1030.78,1847.41 1031.82,1849.11 1032.86,1850.76 1033.9,1852.36 1034.94,1853.91 1035.97,1855.41 1037.01,1856.87 1038.05,1858.27 1039.09,1859.62 1040.13,1860.92 1041.17,1862.17 1042.21,1863.37 1043.25,1864.51 1044.28,1865.61 1045.32,1866.65 1046.36,1867.64 1047.4,1868.57 1048.44,1869.46 1049.48,1870.29 1050.52,1871.06 1051.56,1871.78 1052.6,1872.45 1053.63,1873.06 1054.67,1873.62 1055.71,1874.12 1056.75,1874.57 1057.79,1874.96 1058.83,1875.3 1059.87,1875.58 1060.91,1875.81 1061.94,1875.98 1062.98,1876.1 1064.02,1876.16 1065.06,1876.16 1066.1,1876.11 1067.14,1876.01 1068.18,1875.85 1069.22,1875.63 1070.26,1875.36 1071.29,1875.03 1072.33,1874.65 1073.37,1874.21 1074.41,1873.72 1075.45,1873.17 1076.49,1872.57 1077.53,1871.92 1078.57,1871.21 1079.6,1870.44 1080.64,1869.63 1081.68,1868.76 1082.72,1867.83 1083.76,1866.85 1084.8,1865.82 1085.84,1864.74 1086.88,1863.6 1087.92,1862.41 1088.95,1861.18 1089.99,1859.88 1091.03,1858.54 1092.07,1857.15 1093.11,1855.71 1094.15,1854.22 1095.19,1852.67 1096.23,1851.08 1097.26,1849.44 1098.3,1847.76 1099.34,1846.02 1100.38,1844.24 1101.42,1842.41 1102.46,1840.54 1103.5,1838.62 1104.54,1836.65 1105.58,1834.64 1106.61,1832.59 1107.65,1830.49 1108.69,1828.35 1109.73,1826.17 1110.77,1823.94 1111.81,1821.68 1112.85,1819.37 1113.89,1817.03 1114.92,1814.65 1115.96,1812.22 1117,1809.76 1118.04,1807.26 1119.08,1804.73 1120.12,1802.16 1121.16,1799.56 1122.2,1796.92 1123.23,1794.24 1124.27,1791.54 1125.31,1788.8 1126.35,1786.03 1127.39,1783.23 1128.43,1780.4 1129.47,1777.55 1130.51,1774.66 1131.55,1771.75 1132.58,1768.81 1133.62,1765.84 1134.66,1762.85 1135.7,1759.83 1136.74,1756.8 1137.78,1753.74 1138.82,1750.65 1139.86,1747.55 1140.89,1744.43 1141.93,1741.28 1142.97,1738.12 1144.01,1734.95 1145.05,1731.75 1146.09,1728.54 1147.13,1725.32 1148.17,1722.08 1149.21,1718.83 1150.24,1715.56 1151.28,1712.29 1152.32,1709.01 1153.36,1705.71 1154.4,1702.41 1155.44,1699.1 1156.48,1695.79 1157.52,1692.46 1158.55,1689.14 1159.59,1685.81 1160.63,1682.47 1161.67,1679.14 1162.71,1675.8 1163.75,1672.47 1164.79,1669.13 1165.83,1665.8 1166.87,1662.47 1167.9,1659.14 1168.94,1655.82 1169.98,1652.5 1171.02,1649.19 1172.06,1645.89 1173.1,1642.59 1174.14,1639.31 1175.18,1636.03 1176.21,1632.77 1177.25,1629.51 1178.29,1626.27 1179.33,1623.04 1180.37,1619.83 1181.41,1616.63 1182.45,1613.45 1183.49,1610.29 1184.53,1607.14 1185.56,1604.02 1186.6,1600.91 1187.64,1597.82 1188.68,1594.76 1189.72,1591.71 1190.76,1588.69 1191.8,1585.7 1192.84,1582.73 1193.87,1579.78 1194.91,1576.86 1195.95,1573.97 1196.99,1571.11 1198.03,1568.27 1199.07,1565.47 1200.11,1562.69 1201.15,1559.95 1202.18,1557.23 1203.22,1554.56 1204.26,1551.91 1205.3,1549.3 1206.34,1546.72 1207.38,1544.18 1208.42,1541.68 1209.46,1539.21 1210.5,1536.78 1211.53,1534.39 1212.57,1532.03 1213.61,1529.72 1214.65,1527.45 1215.69,1525.21 1216.73,1523.02 1217.77,1520.87 1218.81,1518.77 1219.84,1516.71 1220.88,1514.69 1221.92,1512.71 1222.96,1510.78 1224,1508.9 1225.04,1507.06 1226.08,1505.27 1227.12,1503.53 1228.16,1501.83 1229.19,1500.18 1230.23,1498.58 1231.27,1497.03 1232.31,1495.53 1233.35,1494.08 1234.39,1492.67 1235.43,1491.32 1236.47,1490.02 1237.5,1488.77 1238.54,1487.57 1239.58,1486.43 1240.62,1485.33 1241.66,1484.29 1242.7,1483.3 1243.74,1482.37 1244.78,1481.48 1245.82,1480.66 1246.85,1479.88 1247.89,1479.16 1248.93,1478.49 1249.97,1477.88 1251.01,1477.32 1252.05,1476.82 1253.09,1476.37 1254.13,1475.98 1255.16,1475.64 1256.2,1475.36 1257.24,1475.13 1258.28,1474.96 1259.32,1474.85 1260.36,1474.78 1261.4,1474.78 1262.44,1474.83 1263.47,1474.93 1264.51,1475.1 1265.55,1475.31 1266.59,1475.58 1267.63,1475.91 1268.67,1476.29 1269.71,1476.73 1270.75,1477.22 1271.79,1477.77 1272.82,1478.37 1273.86,1479.02 1274.9,1479.73 1275.94,1480.5 1276.98,1481.31 1278.02,1482.19 1279.06,1483.11 1280.1,1484.09 1281.13,1485.12 1282.17,1486.2 1283.21,1487.34 1284.25,1488.53 1285.29,1489.77 1286.33,1491.06 1287.37,1492.4 1288.41,1493.79 1289.45,1495.23 1290.48,1496.73 1291.52,1498.27 1292.56,1499.86 1293.6,1501.5 1294.64,1503.18 1295.68,1504.92 1296.72,1506.7 1297.76,1508.53 1298.79,1510.4 1299.83,1512.32 1300.87,1514.29 1301.91,1516.3 1302.95,1518.35 1303.99,1520.45 1305.03,1522.59 1306.07,1524.77 1307.11,1527 1308.14,1529.26 1309.18,1531.57 1310.22,1533.91 1311.26,1536.3 1312.3,1538.72 1313.34,1541.18 1314.38,1543.68 1315.42,1546.21 1316.45,1548.78 1317.49,1551.38 1318.53,1554.02 1319.57,1556.7 1320.61,1559.4 1321.65,1562.14 1322.69,1564.91 1323.73,1567.71 1324.77,1570.54 1325.8,1573.39 1326.84,1576.28 1327.88,1579.19 1328.92,1582.13 1329.96,1585.1 1331,1588.09 1332.04,1591.11 1333.08,1594.15 1334.11,1597.21 1335.15,1600.29 1336.19,1603.39 1337.23,1606.52 1338.27,1609.66 1339.31,1612.82 1340.35,1616 1341.39,1619.19 1342.43,1622.4 1343.46,1625.62 1344.5,1628.86 1345.54,1632.11 1346.58,1635.38 1347.62,1638.65 1348.66,1641.94 1349.7,1645.23 1350.74,1648.53 1351.77,1651.84 1352.81,1655.16 1353.85,1658.48 1354.89,1661.8 1355.93,1665.13 1356.97,1668.47 1358.01,1671.8 1359.05,1675.14 1360.08,1678.47 1361.12,1681.81 1362.16,1685.14 1363.2,1688.47 1364.24,1691.8 1365.28,1695.12 1366.32,1698.44 1367.36,1701.75 1368.4,1705.05 1369.43,1708.35 1370.47,1711.63 1371.51,1714.91 1372.55,1718.18 1373.59,1721.43 1374.63,1724.67 1375.67,1727.9 1376.71,1731.11 1377.74,1734.31 1378.78,1737.49 1379.82,1740.65 1380.86,1743.8 1381.9,1746.93 1382.94,1750.03 1383.98,1753.12 1385.02,1756.19 1386.06,1759.23 1387.09,1762.25 1388.13,1765.24 1389.17,1768.22 1390.21,1771.16 1391.25,1774.08 1392.29,1776.97 1393.33,1779.84 1394.37,1782.67 1395.4,1785.48 1396.44,1788.25 1397.48,1790.99 1398.52,1793.71 1399.56,1796.39 1400.6,1799.03 1401.64,1801.64 1402.68,1804.22 1403.72,1806.76 1404.75,1809.27 1405.79,1811.73 1406.83,1814.16 1407.87,1816.56 1408.91,1818.91 1409.95,1821.22 1410.99,1823.5 1412.03,1825.73 1413.06,1827.92 1414.1,1830.07 1415.14,1832.17 1416.18,1834.24 1417.22,1836.25 1418.26,1838.23 1419.3,1840.16 1420.34,1842.04 1421.38,1843.88 1422.41,1845.67 1423.45,1847.41 1424.49,1849.11 1425.53,1850.76 1426.57,1852.36 1427.61,1853.91 1428.65,1855.41 1429.69,1856.87 1430.72,1858.27 1431.76,1859.62 1432.8,1860.92 1433.84,1862.17 1434.88,1863.37 1435.92,1864.51 1436.96,1865.61 1438,1866.65 1439.03,1867.64 1440.07,1868.57 1441.11,1869.46 1442.15,1870.29 1443.19,1871.06 1444.23,1871.78 1445.27,1872.45 1446.31,1873.06 1447.35,1873.62 1448.38,1874.12 1449.42,1874.57 1450.46,1874.96 1451.5,1875.3 1452.54,1875.58 1453.58,1875.81 1454.62,1875.98 1455.66,1876.1 1456.69,1876.16 1457.73,1876.16 1458.77,1876.11 1459.81,1876.01 1460.85,1875.85 1461.89,1875.63 1462.93,1875.36 1463.97,1875.03 1465.01,1874.65 1466.04,1874.21 1467.08,1873.72 1468.12,1873.17 1469.16,1872.57 1470.2,1871.92 1471.24,1871.21 1472.28,1870.44 1473.32,1869.63 1474.35,1868.76 1475.39,1867.83 1476.43,1866.85 1477.47,1865.82 1478.51,1864.74 1479.55,1863.6 1480.59,1862.41 1481.63,1861.18 1482.67,1859.88 1483.7,1858.54 1484.74,1857.15 1485.78,1855.71 1486.82,1854.22 1487.86,1852.67 1488.9,1851.08 1489.94,1849.44 1490.98,1847.76 1492.01,1846.02 1493.05,1844.24 1494.09,1842.41 1495.13,1840.54 1496.17,1838.62 1497.21,1836.65 1498.25,1834.64 1499.29,1832.59 1500.32,1830.49 1501.36,1828.35 1502.4,1826.17 1503.44,1823.94 1504.48,1821.68 1505.52,1819.37 1506.56,1817.03 1507.6,1814.65 1508.64,1812.22 1509.67,1809.76 1510.71,1807.26 1511.75,1804.73 1512.79,1802.16 1513.83,1799.56 1514.87,1796.92 1515.91,1794.24 1516.95,1791.54 1517.98,1788.8 1519.02,1786.03 1520.06,1783.23 1521.1,1780.4 1522.14,1777.55 1523.18,1774.66 1524.22,1771.75 1525.26,1768.81 1526.3,1765.84 1527.33,1762.85 1528.37,1759.83 1529.41,1756.8 1530.45,1753.74 1531.49,1750.65 1532.53,1747.55 1533.57,1744.43 1534.61,1741.28 1535.64,1738.12 1536.68,1734.95 1537.72,1731.75 1538.76,1728.54 1539.8,1725.32 1540.84,1722.08 1541.88,1718.83 1542.92,1715.56 1543.96,1712.29 1544.99,1709.01 1546.03,1705.71 1547.07,1702.41 1548.11,1699.1 1549.15,1695.79 1550.19,1692.46 1551.23,1689.14 1552.27,1685.81 1553.3,1682.47 1554.34,1679.14 1555.38,1675.8 1556.42,1672.47 1557.46,1669.13 1558.5,1665.8 1559.54,1662.47 1560.58,1659.14 1561.62,1655.82 1562.65,1652.5 1563.69,1649.19 1564.73,1645.89 1565.77,1642.59 1566.81,1639.31 1567.85,1636.03 1568.89,1632.77 1569.93,1629.51 1570.96,1626.27 1572,1623.04 1573.04,1619.83 1574.08,1616.63 1575.12,1613.45 1576.16,1610.29 1577.2,1607.14 1578.24,1604.02 1579.28,1600.91 1580.31,1597.82 1581.35,1594.76 1582.39,1591.71 1583.43,1588.69 1584.47,1585.7 1585.51,1582.73 1586.55,1579.78 1587.59,1576.86 1588.62,1573.97 1589.66,1571.11 1590.7,1568.27 1591.74,1565.47 1592.78,1562.69 1593.82,1559.95 1594.86,1557.23 1595.9,1554.56 1596.93,1551.91 1597.97,1549.3 1599.01,1546.72 1600.05,1544.18 1601.09,1541.68 1602.13,1539.21 1603.17,1536.78 1604.21,1534.39 1605.25,1532.03 1606.28,1529.72 1607.32,1527.45 1608.36,1525.21 1609.4,1523.02 1610.44,1520.87 1611.48,1518.77 1612.52,1516.71 1613.56,1514.69 1614.59,1512.71 1615.63,1510.78 1616.67,1508.9 1617.71,1507.06 1618.75,1505.27 1619.79,1503.53 1620.83,1501.83 1621.87,1500.18 1622.91,1498.58 1623.94,1497.03 1624.98,1495.53 1626.02,1494.08 1627.06,1492.67 1628.1,1491.32 1629.14,1490.02 1630.18,1488.77 1631.22,1487.57 1632.25,1486.43 1633.29,1485.33 1634.33,1484.29 1635.37,1483.3 1636.41,1482.37 1637.45,1481.48 1638.49,1480.66 1639.53,1479.88 1640.57,1479.16 1641.6,1478.49 1642.64,1477.88 1643.68,1477.32 1644.72,1476.82 1645.76,1476.37 1646.8,1475.98 1647.84,1475.64 1648.88,1475.36 1649.91,1475.13 1650.95,1474.96 1651.99,1474.85 1653.03,1474.78 1654.07,1474.78 1655.11,1474.83 1656.15,1474.93 1657.19,1475.1 1658.22,1475.31 1659.26,1475.58 1660.3,1475.91 1661.34,1476.29 1662.38,1476.73 1663.42,1477.22 1664.46,1477.77 1665.5,1478.37 1666.54,1479.02 1667.57,1479.73 1668.61,1480.5 1669.65,1481.31 1670.69,1482.19 1671.73,1483.11 1672.77,1484.09 1673.81,1485.12 1674.85,1486.2 1675.88,1487.34 1676.92,1488.53 1677.96,1489.77 1679,1491.06 1680.04,1492.4 1681.08,1493.79 1682.12,1495.23 1683.16,1496.73 1684.2,1498.27 1685.23,1499.86 1686.27,1501.5 1687.31,1503.18 1688.35,1504.92 1689.39,1506.7 1690.43,1508.53 1691.47,1510.4 1692.51,1512.32 1693.54,1514.29 1694.58,1516.3 1695.62,1518.35 1696.66,1520.45 1697.7,1522.59 1698.74,1524.77 1699.78,1527 1700.82,1529.26 1701.86,1531.57 1702.89,1533.91 1703.93,1536.3 1704.97,1538.72 1706.01,1541.18 1707.05,1543.68 1708.09,1546.21 1709.13,1548.78 1710.17,1551.38 1711.2,1554.02 1712.24,1556.7 1713.28,1559.4 1714.32,1562.14 1715.36,1564.91 1716.4,1567.71 1717.44,1570.54 1718.48,1573.39 1719.52,1576.28 1720.55,1579.19 1721.59,1582.13 1722.63,1585.1 1723.67,1588.09 1724.71,1591.11 1725.75,1594.15 1726.79,1597.21 1727.83,1600.29 1728.86,1603.39 1729.9,1606.52 1730.94,1609.66 1731.98,1612.82 1733.02,1616 1734.06,1619.19 1735.1,1622.4 1736.14,1625.62 1737.18,1628.86 1738.21,1632.11 1739.25,1635.38 1740.29,1638.65 1741.33,1641.94 1742.37,1645.23 1743.41,1648.53 1744.45,1651.84 1745.49,1655.16 1746.52,1658.48 1747.56,1661.8 1748.6,1665.13 1749.64,1668.47 1750.68,1671.8 1751.72,1675.14 1752.76,1678.47 1753.8,1681.81 1754.83,1685.14 1755.87,1688.47 1756.91,1691.8 1757.95,1695.12 1758.99,1698.44 1760.03,1701.75 1761.07,1705.05 1762.11,1708.35 1763.15,1711.63 1764.18,1714.91 1765.22,1718.18 1766.26,1721.43 1767.3,1724.67 1768.34,1727.9 1769.38,1731.11 1770.42,1734.31 1771.46,1737.49 1772.49,1740.65 1773.53,1743.8 1774.57,1746.93 1775.61,1750.03 1776.65,1753.12 1777.69,1756.19 1778.73,1759.23 1779.77,1762.25 1780.81,1765.24 1781.84,1768.22 1782.88,1771.16 1783.92,1774.08 1784.96,1776.97 1786,1779.84 1787.04,1782.67 1788.08,1785.48 1789.12,1788.25 1790.15,1790.99 1791.19,1793.71 1792.23,1796.39 1793.27,1799.03 1794.31,1801.64 1795.35,1804.22 1796.39,1806.76 1797.43,1809.27 1798.47,1811.73 1799.5,1814.16 1800.54,1816.56 1801.58,1818.91 1802.62,1821.22 1803.66,1823.5 1804.7,1825.73 1805.74,1827.92 1806.78,1830.07 1807.81,1832.17 1808.85,1834.24 1809.89,1836.25 1810.93,1838.23 1811.97,1840.16 1813.01,1842.04 1814.05,1843.88 1815.09,1845.67 1816.12,1847.41 1817.16,1849.11 1818.2,1850.76 1819.24,1852.36 1820.28,1853.91 1821.32,1855.41 1822.36,1856.87 1823.4,1858.27 1824.44,1859.62 1825.47,1860.92 1826.51,1862.17 1827.55,1863.37 1828.59,1864.51 1829.63,1865.61 1830.67,1866.65 1831.71,1867.64 1832.75,1868.57 1833.78,1869.46 1834.82,1870.29 1835.86,1871.06 1836.9,1871.78 1837.94,1872.45 1838.98,1873.06 1840.02,1873.62 1841.06,1874.12 1842.1,1874.57 1843.13,1874.96 1844.17,1875.3 1845.21,1875.58 1846.25,1875.81 1847.29,1875.98 1848.33,1876.1 1849.37,1876.16 1850.41,1876.16 1851.44,1876.11 1852.48,1876.01 1853.52,1875.85 1854.56,1875.63 1855.6,1875.36" stroke="#00f" stroke-width="9.3" stroke-linejoin="round"/>
</g>
<path d="M609.02 1915.6v-19M609.02 1274.4v19M941.44 1915.6v-19M941.44 1274.4v19M1273.86 1915.6v-19M1273.86 1274.4v19M1606.28 1915.6v-19M1606.28 1274.4v19M343.08 1915.6v-10.5M343.08 1274.4v10.5M409.57 1915.6v-10.5M409.57 1274.4v10.5M476.05 1915.6v-10.5M476.05 1274.4v10.5M542.54 1915.6v-10.5M542.54 1274.4v10.5M675.51 1915.6v-10.5M675.51 1274.4v10.5M741.99 1915.6v-10.5M741.99 1274.4v10.5M808.47 1915.6v-10.5M808.47 1274.4v10.5M874.96 1915.6v-10.5M874.96 1274.4v10.5M1007.93 1915.6v-10.5M1007.93 1274.4v10.5M1074.41 1915.6v-10.5M1074.41 1274.4v10.5M1140.89 1915.6v-10.5M1140.89 1274.4v10.5M1207.38 1915.6v-10.5M1207.38 1274.4v10.5M1340.35 1915.6v-10.5M1340.35 1274.4v10.5M1406.83 1915.6v-10.5M1406.83 1274.4v10.5M1473.32 1915.6v-10.5M1473.32 1274.4v10.5M1539.8 1915.6v-10.5M1539.8 1274.4v10.5M1668.61 1915.6v-10.5M1668.61 1274.4v10.5M1730.94 1915.6v-10.5M1730.94 1274.4v10.5M1793.27 1915.6v-10.5M1793.27 1274.4v10.5M276.6 1851.48h10.5M1855.6 1851.48h-10.5M276.6 1787.36h17.5M1855.6 1787.36h-17.5M276.6 1723.24h10.5M1855.6 1723.24h-10.5M276.6 1659.12h17.5M1855.6 1659.12h-17.5M276.6 1595h10.5M1855.6 1595h-10.5M276.6 1530.88h17.5M1855.6 1530.88h-17.5M276.6 1466.76h10.5M1855.6 1466.76h-10.5M276.6 1402.64h17.5M1855.6 1402.64h-17.5M276.6 1338.52h10.5M1855.6 1338.52h-10.5" stroke="#262626" stroke-width="4.8" fill="none"/>
<rect x="276.6" y="1274.4" width="1579" height="641.2" fill="none" stroke="#262626" stroke-width="4.8"/>
<rect x="327.4" y="1323.4" width="1463.1" height="109.1" fill="#fff" stroke="#262626" stroke-width="4.8"/>
<path d="M340.8 1377H451.1" stroke="#f00" stroke-width="28" stroke-dasharray="25 23" fill="none"/>
<path d="M967.3 1377H1077" stroke="#00f" stroke-width="8.6" fill="none"/>
<text transform="translate(461 1404.6) scale(0.97 1)" font-size="80" text-anchor="start" fill="#231815">Measured value</text>
<text transform="translate(1087.5 1404.6) scale(0.97 1)" font-size="80" text-anchor="start" fill="#231815">Standard sine function</text>
<text transform="translate(251.2 1942.8) scale(0.95 1)" font-size="80" text-anchor="end" fill="#000">0</text>
<text transform="translate(251.2 1814.56) scale(0.95 1)" font-size="80" text-anchor="end" fill="#000">40</text>
<text transform="translate(251.2 1686.32) scale(0.95 1)" font-size="80" text-anchor="end" fill="#000">80</text>
<text transform="translate(251.2 1558.08) scale(0.95 1)" font-size="80" text-anchor="end" fill="#000">120</text>
<text transform="translate(251.2 1429.84) scale(0.95 1)" font-size="80" text-anchor="end" fill="#000">160</text>
<text transform="translate(251.2 1301.6) scale(0.95 1)" font-size="80" text-anchor="end" fill="#000">200</text>
<text transform="translate(277.1 2016.9) scale(0.95 1)" font-size="80" text-anchor="middle" fill="#000">0</text>
<text transform="translate(609.52 2016.9) scale(0.95 1)" font-size="80" text-anchor="middle" fill="#000">8<tspan fill="#4c4948">0</tspan></text>
<text transform="translate(941.94 2016.9) scale(0.95 1)" font-size="80" text-anchor="middle" fill="#000">160</text>
<text transform="translate(1274.36 2016.9) scale(0.95 1)" font-size="80" text-anchor="middle" fill="#000">240</text>
<text transform="translate(1606.78 2016.9) scale(0.95 1)" font-size="80" text-anchor="middle" fill="#000">320</text>
<text transform="translate(1856.1 2016.9) scale(0.95 1)" font-size="80" text-anchor="middle" fill="#000">380</text>
<text transform="translate(1071.2 2123.8) scale(0.97 1)" font-size="88" text-anchor="middle" fill="#000">Coordinate (pixel)</text>
<text transform="translate(102.6 1591.2) rotate(-90) scale(1.07 1)" font-size="82.5" text-anchor="middle" fill="#000">Gray value</text>
<path d="M270.4 2812.08H1876.2M270.4 2729.57H1876.2M270.4 2647.05H1876.2M270.4 2564.53H1876.2M270.4 2482.02H1876.2" stroke="#dedede" stroke-width="4.9" fill="none"/>
<path d="M306.9 2894.6v-10.6M306.9 2399.5v10.6M343.39 2894.6v-10.6M343.39 2399.5v10.6M379.89 2894.6v-10.6M379.89 2399.5v10.6M416.38 2894.6v-18.3M416.38 2399.5v18.3M452.88 2894.6v-10.6M452.88 2399.5v10.6M489.37 2894.6v-10.6M489.37 2399.5v10.6M525.87 2894.6v-10.6M525.87 2399.5v10.6M562.36 2894.6v-18.3M562.36 2399.5v18.3M598.86 2894.6v-10.6M598.86 2399.5v10.6M635.35 2894.6v-10.6M635.35 2399.5v10.6M671.85 2894.6v-10.6M671.85 2399.5v10.6M708.35 2894.6v-18.3M708.35 2399.5v18.3M744.84 2894.6v-10.6M744.84 2399.5v10.6M781.34 2894.6v-10.6M781.34 2399.5v10.6M817.83 2894.6v-10.6M817.83 2399.5v10.6M854.33 2894.6v-18.3M854.33 2399.5v18.3M890.82 2894.6v-10.6M890.82 2399.5v10.6M927.32 2894.6v-10.6M927.32 2399.5v10.6M963.81 2894.6v-10.6M963.81 2399.5v10.6M1000.31 2894.6v-18.3M1000.31 2399.5v18.3M1036.8 2894.6v-10.6M1036.8 2399.5v10.6M1073.3 2894.6v-10.6M1073.3 2399.5v10.6M1109.8 2894.6v-10.6M1109.8 2399.5v10.6M1146.29 2894.6v-18.3M1146.29 2399.5v18.3M1182.79 2894.6v-10.6M1182.79 2399.5v10.6M1219.28 2894.6v-10.6M1219.28 2399.5v10.6M1255.78 2894.6v-10.6M1255.78 2399.5v10.6M1292.27 2894.6v-18.3M1292.27 2399.5v18.3M1328.77 2894.6v-10.6M1328.77 2399.5v10.6M1365.26 2894.6v-10.6M1365.26 2399.5v10.6M1401.76 2894.6v-10.6M1401.76 2399.5v10.6M1438.25 2894.6v-18.3M1438.25 2399.5v18.3M1474.75 2894.6v-10.6M1474.75 2399.5v10.6M1511.25 2894.6v-10.6M1511.25 2399.5v10.6M1547.74 2894.6v-10.6M1547.74 2399.5v10.6M1584.24 2894.6v-18.3M1584.24 2399.5v18.3M1620.73 2894.6v-10.6M1620.73 2399.5v10.6M1657.23 2894.6v-10.6M1657.23 2399.5v10.6M1693.72 2894.6v-10.6M1693.72 2399.5v10.6M1730.22 2894.6v-18.3M1730.22 2399.5v18.3M1766.71 2894.6v-10.6M1766.71 2399.5v10.6M1803.21 2894.6v-10.6M1803.21 2399.5v10.6M1839.7 2894.6v-10.6M1839.7 2399.5v10.6M270.4 2853.34h10.6M1876.2 2853.34h-10.6M270.4 2812.08h18.3M1876.2 2812.08h-18.3M270.4 2770.82h10.6M1876.2 2770.82h-10.6M270.4 2729.57h18.3M1876.2 2729.57h-18.3M270.4 2688.31h10.6M1876.2 2688.31h-10.6M270.4 2647.05h18.3M1876.2 2647.05h-18.3M270.4 2605.79h10.6M1876.2 2605.79h-10.6M270.4 2564.53h18.3M1876.2 2564.53h-18.3M270.4 2523.28h10.6M1876.2 2523.28h-10.6M270.4 2482.02h18.3M1876.2 2482.02h-18.3M270.4 2440.76h10.6M1876.2 2440.76h-10.6" stroke="#262626" stroke-width="4.8" fill="none"/>
<rect x="270.4" y="2399.5" width="1605.8" height="495.1" fill="none" stroke="#262626" stroke-width="4.8"/>
<polyline points="327.7,2424.6 766.3,2574.4 1029.1,2586.6 1260.8,2651.9 1582.7,2657.3 1818.3,2819.4" stroke="#00f" stroke-width="17.5" fill="none" stroke-linejoin="round"/>
<circle cx="327.7" cy="2424.6" r="27.5" fill="#000"/><circle cx="327.7" cy="2424.6" r="10.9" fill="#f00"/>
<circle cx="766.3" cy="2574.4" r="27.5" fill="#000"/><circle cx="766.3" cy="2574.4" r="10.9" fill="#f00"/>
<circle cx="1029.1" cy="2586.6" r="27.5" fill="#000"/><circle cx="1029.1" cy="2586.6" r="10.9" fill="#f00"/>
<circle cx="1260.8" cy="2651.9" r="27.5" fill="#000"/><circle cx="1260.8" cy="2651.9" r="10.9" fill="#f00"/>
<circle cx="1582.7" cy="2657.3" r="27.5" fill="#000"/><circle cx="1582.7" cy="2657.3" r="10.9" fill="#f00"/>
<circle cx="1818.3" cy="2819.4" r="27.5" fill="#000"/><circle cx="1818.3" cy="2819.4" r="10.9" fill="#f00"/>
<text transform="translate(288.1 2505.9) scale(0.97 1)" font-size="63" fill="#000">M<tspan font-size="46" dy="29.3" dx="3">1</tspan></text>
<text transform="translate(727.6 2523.2) scale(0.97 1)" font-size="63" fill="#000">M<tspan font-size="46" dy="29.3" dx="3">2</tspan></text>
<text transform="translate(986.5 2535.3) scale(0.97 1)" font-size="63" fill="#000">M<tspan font-size="46" dy="29.3" dx="3">3</tspan></text>
<text transform="translate(1219.8 2606.2) scale(0.97 1)" font-size="63" fill="#000">M<tspan font-size="46" dy="29.3" dx="3">4</tspan></text>
<text transform="translate(1546.4 2603.2) scale(0.97 1)" font-size="63" fill="#000">M<tspan font-size="46" dy="29.3" dx="3">5</tspan></text>
<text transform="translate(1776.5 2773.7) scale(0.97 1)" font-size="63" fill="#000">M<tspan font-size="46" dy="29.3" dx="3">6</tspan></text>
<text transform="translate(247.6 2919.8) scale(0.97 1)" font-size="72" text-anchor="end" fill="#000">0.70</text>
<text transform="translate(247.6 2837.28) scale(0.97 1)" font-size="72" text-anchor="end" fill="#000">0.75</text>
<text transform="translate(247.6 2754.77) scale(0.97 1)" font-size="72" text-anchor="end" fill="#000">0.80</text>
<text transform="translate(247.6 2672.25) scale(0.97 1)" font-size="72" text-anchor="end" fill="#000">0.85</text>
<text transform="translate(247.6 2589.73) scale(0.97 1)" font-size="72" text-anchor="end" fill="#000">0.90</text>
<text transform="translate(247.6 2507.22) scale(0.97 1)" font-size="72" text-anchor="end" fill="#000">0.95</text>
<text transform="translate(247.6 2424.7) scale(0.97 1)" font-size="72" text-anchor="end" fill="#000">1.00</text>
<text transform="translate(269.8 2981.2) scale(0.97 1)" font-size="72" text-anchor="middle" fill="#000">1.5</text>
<text transform="translate(415.78 2981.2) scale(0.97 1)" font-size="72" text-anchor="middle" fill="#000">2.0</text>
<text transform="translate(561.76 2981.2) scale(0.97 1)" font-size="72" text-anchor="middle" fill="#000">2.5</text>
<text transform="translate(707.75 2981.2) scale(0.97 1)" font-size="72" text-anchor="middle" fill="#000">3.0</text>
<text transform="translate(853.73 2981.2) scale(0.97 1)" font-size="72" text-anchor="middle" fill="#000">3.5</text>
<text transform="translate(999.71 2981.2) scale(0.97 1)" font-size="72" text-anchor="middle" fill="#000">4.0</text>
<text transform="translate(1145.69 2981.2) scale(0.97 1)" font-size="72" text-anchor="middle" fill="#000">4.5</text>
<text transform="translate(1291.67 2981.2) scale(0.97 1)" font-size="72" text-anchor="middle" fill="#000">5.0</text>
<text transform="translate(1437.65 2981.2) scale(0.97 1)" font-size="72" text-anchor="middle" fill="#000">5.5</text>
<text transform="translate(1583.64 2981.2) scale(0.97 1)" font-size="72" text-anchor="middle" fill="#000">6.0</text>
<text transform="translate(1729.62 2981.2) scale(0.97 1)" font-size="72" text-anchor="middle" fill="#000">6.5</text>
<text transform="translate(1875.6 2981.2) scale(0.97 1)" font-size="72" text-anchor="middle" fill="#000">7.0</text>
<text transform="translate(1092.6 3068.5) scale(0.98 1)" font-size="79" text-anchor="middle" fill="#000">Background illumination <tspan font-weight="bold">E</tspan> (Lux)</text>
<text transform="translate(95 2644.2) rotate(-90) scale(0.98 1)" font-size="79" text-anchor="middle" fill="#000">Fringe Contrast</text>
</svg>
</body>
</html>
